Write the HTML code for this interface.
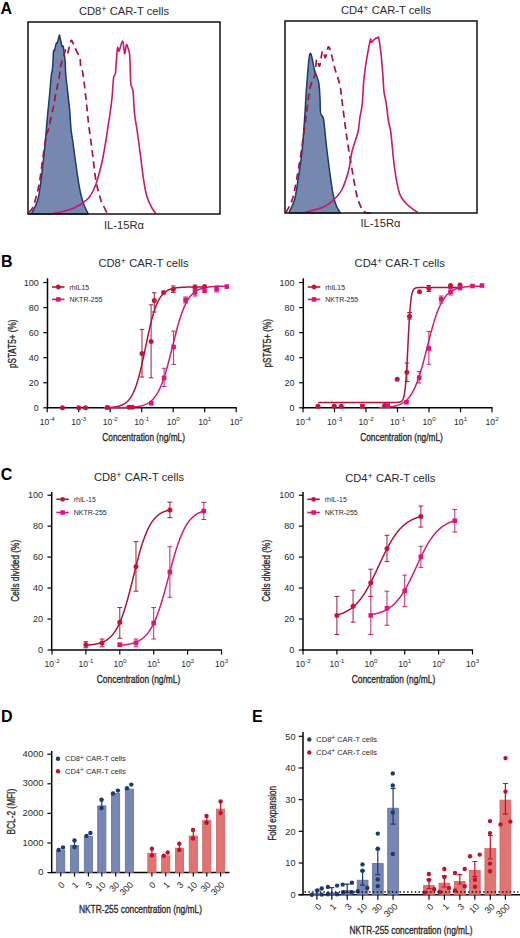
<!DOCTYPE html>
<html><head><meta charset="utf-8"><style>
html,body{margin:0;padding:0;background:#fff;width:520px;height:938px;overflow:hidden}
svg{display:block}
text{font-family:"Liberation Sans", sans-serif}
</style></head><body>
<svg width="520" height="938" viewBox="0 0 520 938">
<rect width="520" height="938" fill="#fff"/>
<text x="0.6" y="14.2" font-size="16" text-anchor="start" font-weight="bold" fill="#000" >A</text>
<text x="1" y="266.7" font-size="16" text-anchor="start" font-weight="bold" fill="#000" >B</text>
<text x="0.8" y="480" font-size="16" text-anchor="start" font-weight="bold" fill="#000" >C</text>
<text x="1" y="721.8" font-size="16" text-anchor="start" font-weight="bold" fill="#000" >D</text>
<text x="252" y="721.7" font-size="16" text-anchor="start" font-weight="bold" fill="#000" >E</text>
<path d="M29.5,213.5 C29.92,213.33 30.65,214.67 32,212.5 C33.35,210.33 36.27,204.58 37.6,200.5 C38.93,196.42 39.27,192.75 40,188 C40.73,183.25 41.25,178.33 42,172 C42.75,165.67 43.83,156.5 44.5,150 C45.17,143.5 45.43,139.35 46,133 C46.57,126.65 47.3,118.3 47.9,111.9 C48.5,105.5 49.03,100.75 49.6,94.6 C50.17,88.45 50.85,79.1 51.3,75 C51.75,70.9 52.02,72.37 52.3,70 C52.58,67.63 52.8,63.93 53,60.8 C53.2,57.67 53.23,52.93 53.5,51.2 C53.77,49.47 54.15,51.68 54.6,50.4 C55.05,49.12 55.75,44.75 56.2,43.5 C56.65,42.25 56.88,43.87 57.3,42.9 C57.72,41.93 58.33,39.02 58.7,37.7 C59.07,36.38 59.25,34.87 59.5,35 C59.75,35.13 59.92,37.28 60.2,38.5 C60.48,39.72 60.92,41.02 61.2,42.3 C61.48,43.58 61.55,45.5 61.9,46.2 C62.25,46.9 62.92,45.37 63.3,46.5 C63.68,47.63 63.88,50.37 64.2,53 C64.52,55.63 64.93,58.63 65.2,62.3 C65.47,65.97 65.33,69.62 65.8,75 C66.27,80.38 67.33,88.45 68,94.6 C68.67,100.75 69.3,106.13 69.8,111.9 C70.3,117.67 70.47,124.02 71,129.2 C71.53,134.38 72.33,138.2 73,143 C73.67,147.8 74.33,153.17 75,158 C75.67,162.83 76.33,167.5 77,172 C77.67,176.5 78.33,181.17 79,185 C79.67,188.83 80.17,191.67 81,195 C81.83,198.33 82.83,201.92 84,205 C85.17,208.08 87.33,212.08 88,213.5 L88,214 L29.5,214" stroke="#1c3a6a" stroke-width="1.5" fill="#7788b0" stroke-linejoin="round" />
<path d="M29,212.5 C29.67,211.58 31.72,209.92 33,207 C34.28,204.08 35.7,198.67 36.7,195 C37.7,191.33 38.28,188.83 39,185 C39.72,181.17 40.17,177.83 41,172 C41.83,166.17 43.08,156.17 44,150 C44.92,143.83 45.75,138.47 46.5,135 C47.25,131.53 47.7,132.28 48.5,129.2 C49.3,126.12 50.45,120.37 51.3,116.5 C52.15,112.63 52.82,110.03 53.6,106 C54.38,101.97 55.17,96.5 56,92.3 C56.83,88.1 57.83,85.02 58.6,80.8 C59.37,76.58 59.98,70.47 60.6,67 C61.22,63.53 61.63,62.33 62.3,60 C62.97,57.67 63.98,54.75 64.6,53 C65.22,51.25 65.52,49.42 66,49.5 C66.48,49.58 66.92,54.08 67.5,53.5 C68.08,52.92 68.88,48.18 69.5,46 C70.12,43.82 70.53,40.73 71.2,40.4 C71.87,40.07 72.67,42.33 73.5,44 C74.33,45.67 75.12,47.93 76.2,50.4 C77.28,52.87 79.25,56.05 80,58.8 C80.75,61.55 80.28,64.78 80.7,66.9 C81.12,69.02 81.92,68.82 82.5,71.5 C83.08,74.18 83.63,78.58 84.2,83 C84.77,87.42 85.37,93.17 85.9,98 C86.43,102.83 86.92,107.38 87.4,112 C87.88,116.62 87.97,118.95 88.8,125.7 C89.63,132.45 91.2,143.28 92.4,152.5 C93.6,161.72 94.57,173 96,181 C97.43,189 99.67,196.17 101,200.5 C102.33,204.83 103,204.92 104,207 C105,209.08 106.5,212 107,213" stroke="#a3143f" stroke-width="1.7" fill="none" stroke-linejoin="round" stroke-dasharray="7 4.5"/>
<path d="M53,213.4 C54.17,213.22 57.17,212.93 60,212.3 C62.83,211.67 67,210.65 70,209.6 C73,208.55 75.67,207.27 78,206 C80.33,204.73 82.08,203.5 84,202 C85.92,200.5 87.92,199 89.5,197 C91.08,195 92.25,192.67 93.5,190 C94.75,187.33 95.58,185.67 97,181 C98.42,176.33 100.5,168.83 102,162 C103.5,155.17 105.08,145.33 106,140 C106.92,134.67 107.05,133 107.5,130 C107.95,127 108.28,124.67 108.7,122 C109.12,119.33 109.45,118 110,114 C110.55,110 111.4,104.03 112,98 C112.6,91.97 113.03,81.97 113.6,77.8 C114.17,73.63 114.78,77.8 115.4,73 C116.02,68.2 116.82,53 117.3,49 C117.78,45 117.98,48.7 118.3,49 C118.62,49.3 118.47,52.1 119.2,50.8 C119.93,49.5 121.8,40.72 122.7,41.2 C123.6,41.68 123.97,53.12 124.6,53.7 C125.23,54.28 125.8,45.18 126.5,44.7 C127.2,44.22 128.25,48.82 128.8,50.8 C129.35,52.78 129.47,51.15 129.8,56.6 C130.13,62.05 130.27,77.77 130.8,83.5 C131.33,89.23 132.37,85.92 133,91 C133.63,96.08 133.85,107 134.6,114 C135.35,121 136.38,125 137.5,133 C138.62,141 140.25,154 141.3,162 C142.35,170 142.85,175.17 143.8,181 C144.75,186.83 145.63,192.5 147,197 C148.37,201.5 150.53,205.25 152,208 C153.47,210.75 155.17,212.58 155.8,213.5" stroke="#c9176b" stroke-width="1.6" fill="none" stroke-linejoin="round" />
<rect x="28" y="22" width="192" height="192" fill="none" stroke="#111" stroke-width="1.5"/>
<path d="M289,212.5 C289.93,210.33 293.1,204.92 294.6,199.5 C296.1,194.08 296.77,188 298,180 C299.23,172 300.83,162.67 302,151.5 C303.17,140.33 304.25,123.58 305,113 C305.75,102.42 305.67,97.88 306.5,88 C307.33,78.12 308.62,56.53 310,53.7 C311.38,50.87 313.35,66.2 314.8,71 C316.25,75.8 317.83,78 318.7,82.5 C319.57,87 319.68,92.92 320,98 C320.32,103.08 320.02,109.5 320.6,113 C321.18,116.5 322.6,114.17 323.5,119 C324.4,123.83 324.98,133.33 326,142 C327.02,150.67 328.43,162.33 329.6,171 C330.77,179.67 331.93,188.33 333,194 C334.07,199.67 334.83,201.92 336,205 C337.17,208.08 339.33,211.25 340,212.5 L340,213 L289,213" stroke="#1c3a6a" stroke-width="1.5" fill="#7788b0" stroke-linejoin="round" />
<path d="M286,212.5 C287.05,210.33 290.55,204.92 292.3,199.5 C294.05,194.08 295,188 296.5,180 C298,172 299.72,162 301.3,151.5 C302.88,141 304.55,127.58 306,117 C307.45,106.42 308.53,95 310,88 C311.47,81 313.68,79.75 314.8,75 C315.92,70.25 315.9,61 316.7,59.5 C317.5,58 318.63,67.42 319.6,66 C320.57,64.58 321.53,52.42 322.5,51 C323.47,49.58 324.43,58.17 325.4,57.5 C326.37,56.83 327.37,47.8 328.3,47 C329.23,46.2 329.88,49.03 331,52.7 C332.12,56.37 333.53,63.7 335,69 C336.47,74.3 338.68,79.67 339.8,84.5 C340.92,89.33 340.9,91.92 341.7,98 C342.5,104.08 343.63,113.67 344.6,121 C345.57,128.33 346.22,133.67 347.5,142 C348.78,150.33 350.8,162.33 352.3,171 C353.8,179.67 355.05,188 356.5,194 C357.95,200 359.45,203.92 361,207 C362.55,210.08 363.47,211.5 365.8,212.5 C368.13,213.5 373.47,212.92 375,213" stroke="#a3143f" stroke-width="1.7" fill="none" stroke-linejoin="round" stroke-dasharray="7 4.5"/>
<path d="M304,212.5 C307.25,211.58 318.5,209.17 323.5,207 C328.5,204.83 330.97,202.33 334,199.5 C337.03,196.67 339.28,194.75 341.7,190 C344.12,185.25 346.78,177.42 348.5,171 C350.22,164.58 350.42,158 352,151.5 C353.58,145 356.67,137.75 358,132 C359.33,126.25 359.28,121.72 360,117 C360.72,112.28 361.6,110.4 362.3,103.7 C363,97 362.92,87.22 364.2,76.8 C365.48,66.38 368.78,46.92 370,41.2 C371.22,35.48 370.77,42.82 371.5,42.5 C372.23,42.18 373.43,40.07 374.4,39.3 C375.37,38.53 376.57,38.07 377.3,37.9 C378.03,37.73 378.15,35.35 378.8,38.3 C379.45,41.25 380.5,49.18 381.2,55.6 C381.9,62.02 382.53,70.73 383,76.8 C383.47,82.87 383.5,87.8 384,92 C384.5,96.2 385.25,97.17 386,102 C386.75,106.83 387.7,115.97 388.5,121 C389.3,126.03 389.93,125.53 390.8,132.2 C391.67,138.87 392.75,152.98 393.7,161 C394.65,169.02 395.38,174.52 396.5,180.3 C397.62,186.08 398.48,191.53 400.4,195.7 C402.32,199.87 405.12,202.5 408,205.3 C410.88,208.1 416.08,211.3 417.7,212.5" stroke="#c9176b" stroke-width="1.6" fill="none" stroke-linejoin="round" />
<rect x="285" y="21" width="192" height="192" fill="none" stroke="#111" stroke-width="1.5"/>
<text x="124" y="15" font-size="11.2" text-anchor="middle" font-weight="normal" fill="#2a2a2a" >CD8<tspan font-size="9" dy="-3">+</tspan><tspan dy="3"> CAR-T cells</tspan></text>
<text x="386" y="14.3" font-size="11.2" text-anchor="middle" font-weight="normal" fill="#2a2a2a" >CD4<tspan font-size="9" dy="-3">+</tspan><tspan dy="3"> CAR-T cells</tspan></text>
<text x="124" y="228.6" font-size="11.2" text-anchor="middle" font-weight="normal" fill="#2a2a2a" >IL-15R&#945;</text>
<text x="380.5" y="226.9" font-size="11.2" text-anchor="middle" font-weight="normal" fill="#2a2a2a" >IL-15R&#945;</text>
<path d="M47.5,278.3V408.4" stroke="#050505" stroke-width="1.5" fill="none"/>
<path d="M43.3,407.8H47.5" stroke="#050505" stroke-width="1.2"/>
<text x="38.8" y="411" font-size="9" text-anchor="end" font-weight="normal" fill="#2a2a2a" >0</text>
<path d="M43.3,382.75H47.5" stroke="#050505" stroke-width="1.2"/>
<text x="38.8" y="385.95" font-size="9" text-anchor="end" font-weight="normal" fill="#2a2a2a" >20</text>
<path d="M43.3,357.7H47.5" stroke="#050505" stroke-width="1.2"/>
<text x="38.8" y="360.9" font-size="9" text-anchor="end" font-weight="normal" fill="#2a2a2a" >40</text>
<path d="M43.3,332.65H47.5" stroke="#050505" stroke-width="1.2"/>
<text x="38.8" y="335.85" font-size="9" text-anchor="end" font-weight="normal" fill="#2a2a2a" >60</text>
<path d="M43.3,307.6H47.5" stroke="#050505" stroke-width="1.2"/>
<text x="38.8" y="310.8" font-size="9" text-anchor="end" font-weight="normal" fill="#2a2a2a" >80</text>
<path d="M43.3,282.55H47.5" stroke="#050505" stroke-width="1.2"/>
<text x="38.8" y="285.75" font-size="9" text-anchor="end" font-weight="normal" fill="#2a2a2a" >100</text>
<path d="M46.5,407.8H236.8" stroke="#050505" stroke-width="1.5" fill="none"/>
<path d="M47.2,407.8V412.3" stroke="#050505" stroke-width="1.2"/>
<text x="47.3" y="424.8" font-size="8.6" text-anchor="middle" font-weight="normal" fill="#2a2a2a" >10<tspan font-size="6.2" dy="-3.9">-4</tspan></text>
<path d="M78.7,407.8V412.3" stroke="#050505" stroke-width="1.2"/>
<text x="78.8" y="424.8" font-size="8.6" text-anchor="middle" font-weight="normal" fill="#2a2a2a" >10<tspan font-size="6.2" dy="-3.9">-3</tspan></text>
<path d="M110.2,407.8V412.3" stroke="#050505" stroke-width="1.2"/>
<text x="110.3" y="424.8" font-size="8.6" text-anchor="middle" font-weight="normal" fill="#2a2a2a" >10<tspan font-size="6.2" dy="-3.9">-2</tspan></text>
<path d="M141.7,407.8V412.3" stroke="#050505" stroke-width="1.2"/>
<text x="141.8" y="424.8" font-size="8.6" text-anchor="middle" font-weight="normal" fill="#2a2a2a" >10<tspan font-size="6.2" dy="-3.9">-1</tspan></text>
<path d="M173.2,407.8V412.3" stroke="#050505" stroke-width="1.2"/>
<text x="173.3" y="424.8" font-size="8.6" text-anchor="middle" font-weight="normal" fill="#2a2a2a" >10<tspan font-size="6.2" dy="-3.9">0</tspan></text>
<path d="M204.7,407.8V412.3" stroke="#050505" stroke-width="1.2"/>
<text x="204.8" y="424.8" font-size="8.6" text-anchor="middle" font-weight="normal" fill="#2a2a2a" >10<tspan font-size="6.2" dy="-3.9">1</tspan></text>
<path d="M236.2,407.8V412.3" stroke="#050505" stroke-width="1.2"/>
<text x="236.3" y="424.8" font-size="8.6" text-anchor="middle" font-weight="normal" fill="#2a2a2a" >10<tspan font-size="6.2" dy="-3.9">2</tspan></text>
<text x="143.65" y="441.1" font-size="11.3" text-anchor="middle" fill="#2a2a2a" stroke="#2a2a2a" stroke-width="0.35" textLength="82.6" lengthAdjust="spacingAndGlyphs" >Concentration (ng/mL)</text>
<text x="15.7" y="343.8" font-size="11.3" text-anchor="middle" fill="#2a2a2a" stroke="#2a2a2a" stroke-width="0.35" textLength="48.5" lengthAdjust="spacingAndGlyphs" transform="rotate(-90 15.7 343.8)">pSTAT5+ (%)</text>
<path d="M52,287h12.5" stroke="#ac1539" stroke-width="1.6"/>
<circle cx="58.3" cy="287" r="2.4" fill="#c81238"/>
<path d="M52,299.4h12.5" stroke="#d61973" stroke-width="1.6"/>
<rect x="56.05" y="297.15" width="4.5" height="4.5" fill="#e0137a"/>
<text x="69.4" y="289.5" font-size="7" text-anchor="start" font-weight="normal" fill="#2a2a2a" >rhIL15</text>
<text x="69.4" y="301.9" font-size="7" text-anchor="start" font-weight="normal" fill="#2a2a2a" >NKTR-255</text>
<path d="M303.3,278.3V408.4" stroke="#050505" stroke-width="1.5" fill="none"/>
<path d="M299.1,407.8H303.3" stroke="#050505" stroke-width="1.2"/>
<text x="294.6" y="411" font-size="9" text-anchor="end" font-weight="normal" fill="#2a2a2a" >0</text>
<path d="M299.1,382.75H303.3" stroke="#050505" stroke-width="1.2"/>
<text x="294.6" y="385.95" font-size="9" text-anchor="end" font-weight="normal" fill="#2a2a2a" >20</text>
<path d="M299.1,357.7H303.3" stroke="#050505" stroke-width="1.2"/>
<text x="294.6" y="360.9" font-size="9" text-anchor="end" font-weight="normal" fill="#2a2a2a" >40</text>
<path d="M299.1,332.65H303.3" stroke="#050505" stroke-width="1.2"/>
<text x="294.6" y="335.85" font-size="9" text-anchor="end" font-weight="normal" fill="#2a2a2a" >60</text>
<path d="M299.1,307.6H303.3" stroke="#050505" stroke-width="1.2"/>
<text x="294.6" y="310.8" font-size="9" text-anchor="end" font-weight="normal" fill="#2a2a2a" >80</text>
<path d="M299.1,282.55H303.3" stroke="#050505" stroke-width="1.2"/>
<text x="294.6" y="285.75" font-size="9" text-anchor="end" font-weight="normal" fill="#2a2a2a" >100</text>
<path d="M302.3,407.8H492.6" stroke="#050505" stroke-width="1.5" fill="none"/>
<path d="M303,407.8V412.3" stroke="#050505" stroke-width="1.2"/>
<text x="303.1" y="424.8" font-size="8.6" text-anchor="middle" font-weight="normal" fill="#2a2a2a" >10<tspan font-size="6.2" dy="-3.9">-4</tspan></text>
<path d="M334.5,407.8V412.3" stroke="#050505" stroke-width="1.2"/>
<text x="334.6" y="424.8" font-size="8.6" text-anchor="middle" font-weight="normal" fill="#2a2a2a" >10<tspan font-size="6.2" dy="-3.9">-3</tspan></text>
<path d="M366,407.8V412.3" stroke="#050505" stroke-width="1.2"/>
<text x="366.1" y="424.8" font-size="8.6" text-anchor="middle" font-weight="normal" fill="#2a2a2a" >10<tspan font-size="6.2" dy="-3.9">-2</tspan></text>
<path d="M397.5,407.8V412.3" stroke="#050505" stroke-width="1.2"/>
<text x="397.6" y="424.8" font-size="8.6" text-anchor="middle" font-weight="normal" fill="#2a2a2a" >10<tspan font-size="6.2" dy="-3.9">-1</tspan></text>
<path d="M429,407.8V412.3" stroke="#050505" stroke-width="1.2"/>
<text x="429.1" y="424.8" font-size="8.6" text-anchor="middle" font-weight="normal" fill="#2a2a2a" >10<tspan font-size="6.2" dy="-3.9">0</tspan></text>
<path d="M460.5,407.8V412.3" stroke="#050505" stroke-width="1.2"/>
<text x="460.6" y="424.8" font-size="8.6" text-anchor="middle" font-weight="normal" fill="#2a2a2a" >10<tspan font-size="6.2" dy="-3.9">1</tspan></text>
<path d="M492,407.8V412.3" stroke="#050505" stroke-width="1.2"/>
<text x="492.1" y="424.8" font-size="8.6" text-anchor="middle" font-weight="normal" fill="#2a2a2a" >10<tspan font-size="6.2" dy="-3.9">2</tspan></text>
<text x="401.55" y="441.1" font-size="11.3" text-anchor="middle" fill="#2a2a2a" stroke="#2a2a2a" stroke-width="0.35" textLength="82.6" lengthAdjust="spacingAndGlyphs" >Concentration (ng/mL)</text>
<text x="270.9" y="343.2" font-size="11.3" text-anchor="middle" fill="#2a2a2a" stroke="#2a2a2a" stroke-width="0.35" textLength="48.5" lengthAdjust="spacingAndGlyphs" transform="rotate(-90 270.9 343.2)">pSTAT5+ (%)</text>
<path d="M307.8,287h12.5" stroke="#ac1539" stroke-width="1.6"/>
<circle cx="314.1" cy="287" r="2.4" fill="#c81238"/>
<path d="M307.8,299.4h12.5" stroke="#d61973" stroke-width="1.6"/>
<rect x="311.85" y="297.15" width="4.5" height="4.5" fill="#e0137a"/>
<text x="325.2" y="289.5" font-size="7" text-anchor="start" font-weight="normal" fill="#2a2a2a" >rhIL15</text>
<text x="325.2" y="301.9" font-size="7" text-anchor="start" font-weight="normal" fill="#2a2a2a" >NKTR-255</text>
<text x="143.5" y="267.3" font-size="11.2" text-anchor="middle" font-weight="normal" fill="#2a2a2a" >CD8<tspan font-size="9" dy="-3">+</tspan><tspan dy="3"> CAR-T cells</tspan></text>
<text x="399.7" y="267.3" font-size="11.2" text-anchor="middle" font-weight="normal" fill="#2a2a2a" >CD4<tspan font-size="9" dy="-3">+</tspan><tspan dy="3"> CAR-T cells</tspan></text>
<path d="M103.9,407.64 L104.4,407.63 L104.91,407.61 L105.41,407.6 L105.92,407.58 L106.42,407.56 L106.92,407.54 L107.43,407.52 L107.93,407.5 L108.44,407.47 L108.94,407.45 L109.44,407.42 L109.95,407.38 L110.45,407.35 L110.96,407.31 L111.46,407.27 L111.96,407.23 L112.47,407.18 L112.97,407.13 L113.48,407.07 L113.98,407.01 L114.48,406.95 L114.99,406.87 L115.49,406.8 L116,406.71 L116.5,406.62 L117,406.53 L117.51,406.42 L118.01,406.31 L118.52,406.18 L119.02,406.05 L119.52,405.91 L120.03,405.75 L120.53,405.58 L121.04,405.4 L121.54,405.21 L122.04,404.99 L122.55,404.77 L123.05,404.52 L123.56,404.25 L124.06,403.97 L124.56,403.66 L125.07,403.32 L125.57,402.96 L126.08,402.58 L126.58,402.16 L127.08,401.71 L127.59,401.23 L128.09,400.71 L128.6,400.16 L129.1,399.56 L129.6,398.92 L130.11,398.24 L130.61,397.51 L131.12,396.73 L131.62,395.89 L132.12,395 L132.63,394.05 L133.13,393.04 L133.64,391.97 L134.14,390.83 L134.64,389.63 L135.15,388.35 L135.65,387 L136.16,385.59 L136.66,384.09 L137.16,382.52 L137.67,380.88 L138.17,379.16 L138.68,377.37 L139.18,375.51 L139.68,373.57 L140.19,371.57 L140.69,369.5 L141.2,367.36 L141.7,365.18 L142.2,362.93 L142.71,360.65 L143.21,358.32 L143.72,355.95 L144.22,353.56 L144.72,351.15 L145.23,348.73 L145.73,346.31 L146.24,343.88 L146.74,341.47 L147.24,339.08 L147.75,336.71 L148.25,334.38 L148.76,332.08 L149.26,329.84 L149.76,327.64 L150.27,325.5 L150.77,323.42 L151.28,321.41 L151.78,319.47 L152.28,317.59 L152.79,315.79 L153.29,314.06 L153.8,312.41 L154.3,310.83 L154.8,309.33 L155.31,307.9 L155.81,306.55 L156.32,305.26 L156.82,304.05 L157.32,302.9 L157.83,301.82 L158.33,300.8 L158.84,299.85 L159.34,298.95 L159.84,298.11 L160.35,297.32 L160.85,296.58 L161.36,295.89 L161.86,295.25 L162.36,294.65 L162.87,294.09 L163.37,293.57 L163.88,293.08 L164.38,292.63 L164.88,292.21 L165.39,291.82 L165.89,291.46 L166.4,291.12 L166.9,290.81 L167.4,290.52 L167.91,290.25 L168.41,290 L168.92,289.77 L169.42,289.55 L169.92,289.35 L170.43,289.17 L170.93,289 L171.44,288.84 L171.94,288.7 L172.44,288.56 L172.95,288.44 L173.45,288.33 L173.96,288.22 L174.46,288.12 L174.96,288.03 L175.47,287.95 L175.97,287.87 L176.48,287.8 L176.98,287.73 L177.48,287.67 L177.99,287.61 L178.49,287.56 L179,287.51 L179.5,287.47 L180,287.43 L180.51,287.39 L181.01,287.35 L181.52,287.32 L182.02,287.29 L182.52,287.26 L183.03,287.24 L183.53,287.22 L184.04,287.19 L184.54,287.17 L185.04,287.16 L185.55,287.14 L186.05,287.12 L186.56,287.11 L187.06,287.09 L187.56,287.08 L188.07,287.07 L188.57,287.06 L189.08,287.05 L189.58,287.04 L190.08,287.03 L190.59,287.03 L191.09,287.02 L191.6,287.01 L192.1,287.01 L192.6,287 L193.11,287 L193.61,286.99 L194.12,286.99 L194.62,286.98 L195.12,286.98 L195.63,286.97 L196.13,286.97 L196.64,286.97 L197.14,286.97 L197.64,286.96 L198.15,286.96 L198.65,286.96 L199.16,286.96 L199.66,286.96 L200.16,286.95 L200.67,286.95 L201.17,286.95 L201.68,286.95 L202.18,286.95 L202.68,286.95 L203.19,286.95 L203.69,286.95 L204.2,286.94 L204.7,286.94" stroke="#ac1539" stroke-width="1.5" fill="none" stroke-linejoin="round" />
<path d="M103.9,407.79 L104.51,407.79 L105.13,407.78 L105.74,407.78 L106.36,407.78 L106.97,407.78 L107.59,407.78 L108.2,407.78 L108.81,407.77 L109.43,407.77 L110.04,407.77 L110.66,407.77 L111.27,407.76 L111.89,407.76 L112.5,407.76 L113.11,407.75 L113.73,407.75 L114.34,407.75 L114.96,407.74 L115.57,407.74 L116.19,407.73 L116.8,407.73 L117.41,407.72 L118.03,407.71 L118.64,407.7 L119.26,407.7 L119.87,407.69 L120.48,407.68 L121.1,407.67 L121.71,407.66 L122.33,407.64 L122.94,407.63 L123.56,407.62 L124.17,407.6 L124.78,407.58 L125.4,407.57 L126.01,407.55 L126.63,407.52 L127.24,407.5 L127.86,407.48 L128.47,407.45 L129.08,407.42 L129.7,407.39 L130.31,407.35 L130.93,407.31 L131.54,407.27 L132.16,407.23 L132.77,407.18 L133.38,407.12 L134,407.07 L134.61,407 L135.23,406.94 L135.84,406.86 L136.46,406.79 L137.07,406.7 L137.68,406.61 L138.3,406.51 L138.91,406.4 L139.53,406.28 L140.14,406.15 L140.75,406.01 L141.37,405.86 L141.98,405.7 L142.6,405.53 L143.21,405.34 L143.83,405.13 L144.44,404.91 L145.05,404.67 L145.67,404.41 L146.28,404.13 L146.9,403.83 L147.51,403.51 L148.13,403.15 L148.74,402.77 L149.35,402.37 L149.97,401.92 L150.58,401.45 L151.2,400.94 L151.81,400.39 L152.43,399.8 L153.04,399.17 L153.65,398.49 L154.27,397.76 L154.88,396.98 L155.5,396.15 L156.11,395.26 L156.73,394.31 L157.34,393.3 L157.95,392.22 L158.57,391.08 L159.18,389.87 L159.8,388.58 L160.41,387.22 L161.03,385.79 L161.64,384.27 L162.25,382.68 L162.87,381.02 L163.48,379.27 L164.1,377.45 L164.71,375.55 L165.32,373.57 L165.94,371.52 L166.55,369.41 L167.17,367.23 L167.78,364.99 L168.4,362.7 L169.01,360.35 L169.62,357.97 L170.24,355.54 L170.85,353.09 L171.47,350.62 L172.08,348.14 L172.7,345.65 L173.31,343.17 L173.92,340.7 L174.54,338.25 L175.15,335.83 L175.77,333.44 L176.38,331.1 L177,328.81 L177.61,326.57 L178.22,324.39 L178.84,322.28 L179.45,320.23 L180.07,318.26 L180.68,316.36 L181.3,314.54 L181.91,312.8 L182.52,311.13 L183.14,309.54 L183.75,308.03 L184.37,306.6 L184.98,305.24 L185.6,303.96 L186.21,302.75 L186.82,301.6 L187.44,300.53 L188.05,299.52 L188.67,298.57 L189.28,297.68 L189.89,296.85 L190.51,296.07 L191.12,295.35 L191.74,294.67 L192.35,294.04 L192.97,293.45 L193.58,292.9 L194.19,292.39 L194.81,291.92 L195.42,291.48 L196.04,291.07 L196.65,290.69 L197.27,290.34 L197.88,290.02 L198.49,289.72 L199.11,289.44 L199.72,289.18 L200.34,288.94 L200.95,288.72 L201.57,288.51 L202.18,288.32 L202.79,288.15 L203.41,287.99 L204.02,287.84 L204.64,287.7 L205.25,287.57 L205.87,287.46 L206.48,287.35 L207.09,287.25 L207.71,287.15 L208.32,287.07 L208.94,286.99 L209.55,286.92 L210.17,286.85 L210.78,286.79 L211.39,286.73 L212.01,286.68 L212.62,286.63 L213.24,286.59 L213.85,286.54 L214.47,286.51 L215.08,286.47 L215.69,286.44 L216.31,286.41 L216.92,286.38 L217.54,286.36 L218.15,286.33 L218.76,286.31 L219.38,286.29 L219.99,286.27 L220.61,286.26 L221.22,286.24 L221.84,286.23 L222.45,286.21 L223.06,286.2 L223.68,286.19 L224.29,286.18 L224.91,286.17 L225.52,286.16 L226.14,286.15 L226.75,286.14" stroke="#d61973" stroke-width="1.5" fill="none" stroke-linejoin="round" />
<circle cx="62.4" cy="407.7" r="2.5" fill="#c81238"/>
<circle cx="78.8" cy="407.7" r="2.5" fill="#c81238"/>
<circle cx="85.5" cy="407.7" r="2.5" fill="#c81238"/>
<circle cx="129" cy="407.3" r="2.5" fill="#c81238"/>
<circle cx="132.4" cy="407.3" r="2.5" fill="#c81238"/>
<path d="M142,329.4V377M139.7,329.4h4.6M139.7,377h4.6" stroke="#a01a40" stroke-width="1" fill="none"/>
<circle cx="142" cy="353.6" r="2.5" fill="#c81238"/>
<path d="M151.1,304.8V377.9M148.8,304.8h4.6M148.8,377.9h4.6" stroke="#a01a40" stroke-width="1" fill="none"/>
<circle cx="151.1" cy="341.5" r="2.5" fill="#c81238"/>
<path d="M154.3,292.8V312M152,292.8h4.6M152,312h4.6" stroke="#a01a40" stroke-width="1" fill="none"/>
<circle cx="154.3" cy="300.4" r="2.5" fill="#c81238"/>
<circle cx="163.6" cy="292.4" r="2.5" fill="#c81238"/>
<path d="M173.3,286V292.4M171,286h4.6M171,292.4h4.6" stroke="#a01a40" stroke-width="1" fill="none"/>
<circle cx="173.3" cy="289.2" r="2.5" fill="#c81238"/>
<path d="M195,285V290M192.7,285h4.6M192.7,290h4.6" stroke="#a01a40" stroke-width="1" fill="none"/>
<circle cx="195" cy="287.5" r="2.5" fill="#c81238"/>
<circle cx="204.5" cy="286.4" r="2.5" fill="#c81238"/>
<rect x="105.1" y="405.2" width="4.6" height="4.6" fill="#c81238"/>
<rect x="149" y="401" width="4.6" height="4.6" fill="#e0137a"/>
<path d="M164.1,368.3V386.5M161.8,368.3h4.6M161.8,386.5h4.6" stroke="#bd2870" stroke-width="1" fill="none"/>
<rect x="161.8" y="375.6" width="4.6" height="4.6" fill="#e0137a"/>
<path d="M173.6,331.1V364.4M171.3,331.1h4.6M171.3,364.4h4.6" stroke="#bd2870" stroke-width="1" fill="none"/>
<rect x="171.3" y="344.7" width="4.6" height="4.6" fill="#e0137a"/>
<path d="M185.6,297V303M183.3,297h4.6M183.3,303h4.6" stroke="#bd2870" stroke-width="1" fill="none"/>
<rect x="183.3" y="297.7" width="4.6" height="4.6" fill="#e0137a"/>
<path d="M195.1,289V296M192.8,289h4.6M192.8,296h4.6" stroke="#bd2870" stroke-width="1" fill="none"/>
<rect x="192.8" y="290.1" width="4.6" height="4.6" fill="#e0137a"/>
<rect x="202.2" y="288.4" width="4.6" height="4.6" fill="#e0137a"/>
<path d="M216.6,286V292M214.3,286h4.6M214.3,292h4.6" stroke="#bd2870" stroke-width="1" fill="none"/>
<rect x="214.3" y="286.7" width="4.6" height="4.6" fill="#e0137a"/>
<rect x="224.5" y="284.3" width="4.6" height="4.6" fill="#e0137a"/>
<path d="M318.12,402.41 L318.83,402.41 L319.54,402.41 L320.26,402.41 L320.97,402.41 L321.68,402.41 L322.39,402.41 L323.1,402.41 L323.82,402.41 L324.53,402.41 L325.24,402.41 L325.95,402.41 L326.66,402.41 L327.37,402.41 L328.09,402.41 L328.8,402.41 L329.51,402.41 L330.22,402.41 L330.93,402.41 L331.65,402.41 L332.36,402.41 L333.07,402.41 L333.78,402.41 L334.49,402.41 L335.21,402.41 L335.92,402.41 L336.63,402.41 L337.34,402.41 L338.05,402.41 L338.77,402.41 L339.48,402.41 L340.19,402.41 L340.9,402.41 L341.61,402.41 L342.32,402.41 L343.04,402.41 L343.75,402.41 L344.46,402.41 L345.17,402.41 L345.88,402.41 L346.6,402.41 L347.31,402.41 L348.02,402.41 L348.73,402.41 L349.44,402.41 L350.16,402.41 L350.87,402.41 L351.58,402.41 L352.29,402.41 L353,402.41 L353.71,402.41 L354.43,402.41 L355.14,402.41 L355.85,402.41 L356.56,402.41 L357.27,402.41 L357.99,402.41 L358.7,402.41 L359.41,402.41 L360.12,402.41 L360.83,402.41 L361.55,402.41 L362.26,402.41 L362.97,402.41 L363.68,402.41 L364.39,402.41 L365.11,402.41 L365.82,402.41 L366.53,402.41 L367.24,402.41 L367.95,402.41 L368.66,402.41 L369.38,402.41 L370.09,402.41 L370.8,402.41 L371.51,402.41 L372.22,402.41 L372.94,402.41 L373.65,402.41 L374.36,402.41 L375.07,402.41 L375.78,402.41 L376.5,402.41 L377.21,402.41 L377.92,402.41 L378.63,402.41 L379.34,402.41 L380.06,402.41 L380.77,402.41 L381.48,402.41 L382.19,402.41 L382.9,402.41 L383.61,402.41 L384.33,402.41 L385.04,402.41 L385.75,402.41 L386.46,402.41 L387.17,402.41 L387.89,402.41 L388.6,402.41 L389.31,402.41 L390.02,402.41 L390.73,402.41 L391.45,402.41 L392.16,402.41 L392.87,402.41 L393.58,402.41 L394.29,402.41 L395.01,402.4 L395.72,402.4 L396.43,402.38 L397.14,402.36 L397.85,402.33 L398.56,402.28 L399.28,402.19 L399.99,402.03 L400.7,401.78 L401.41,401.37 L402.12,400.68 L402.84,399.56 L403.55,397.74 L404.26,394.83 L404.97,390.31 L405.68,383.59 L406.4,374.14 L407.11,361.96 L407.82,347.84 L408.53,333.36 L409.24,320.27 L409.96,309.73 L410.67,301.98 L411.38,296.68 L412.09,293.22 L412.8,291.02 L413.51,289.67 L414.23,288.83 L414.94,288.33 L415.65,288.02 L416.36,287.84 L417.07,287.73 L417.79,287.66 L418.5,287.62 L419.21,287.6 L419.92,287.58 L420.63,287.57 L421.35,287.57 L422.06,287.56 L422.77,287.56 L423.48,287.56 L424.19,287.56 L424.9,287.56 L425.62,287.56 L426.33,287.56 L427.04,287.56 L427.75,287.56 L428.46,287.56 L429.18,287.56 L429.89,287.56 L430.6,287.56 L431.31,287.56 L432.02,287.56 L432.74,287.56 L433.45,287.56 L434.16,287.56 L434.87,287.56 L435.58,287.56 L436.3,287.56 L437.01,287.56 L437.72,287.56 L438.43,287.56 L439.14,287.56 L439.85,287.56 L440.57,287.56 L441.28,287.56 L441.99,287.56 L442.7,287.56 L443.41,287.56 L444.13,287.56 L444.84,287.56 L445.55,287.56 L446.26,287.56 L446.97,287.56 L447.69,287.56 L448.4,287.56 L449.11,287.56 L449.82,287.56 L450.53,287.56 L451.25,287.56 L451.96,287.56 L452.67,287.56 L453.38,287.56 L454.09,287.56 L454.8,287.56 L455.52,287.56 L456.23,287.56 L456.94,287.56 L457.65,287.56 L458.36,287.56 L459.08,287.56 L459.79,287.56 L460.5,287.56" stroke="#ac1539" stroke-width="1.5" fill="none" stroke-linejoin="round" />
<path d="M378.6,407.58 L379.12,407.57 L379.64,407.55 L380.16,407.54 L380.68,407.52 L381.2,407.5 L381.72,407.48 L382.24,407.45 L382.76,407.43 L383.28,407.4 L383.8,407.38 L384.32,407.35 L384.84,407.31 L385.36,407.28 L385.88,407.24 L386.4,407.21 L386.92,407.16 L387.44,407.12 L387.96,407.07 L388.48,407.02 L389,406.97 L389.51,406.91 L390.03,406.85 L390.55,406.78 L391.07,406.71 L391.59,406.64 L392.11,406.56 L392.63,406.47 L393.15,406.38 L393.67,406.28 L394.19,406.18 L394.71,406.06 L395.23,405.94 L395.75,405.82 L396.27,405.68 L396.79,405.53 L397.31,405.38 L397.83,405.21 L398.35,405.04 L398.87,404.85 L399.39,404.65 L399.91,404.43 L400.43,404.2 L400.95,403.96 L401.47,403.7 L401.99,403.42 L402.51,403.13 L403.03,402.82 L403.55,402.48 L404.07,402.13 L404.59,401.75 L405.11,401.35 L405.63,400.92 L406.15,400.47 L406.67,399.99 L407.19,399.48 L407.71,398.94 L408.23,398.37 L408.75,397.77 L409.27,397.13 L409.78,396.45 L410.3,395.73 L410.82,394.98 L411.34,394.18 L411.86,393.34 L412.38,392.46 L412.9,391.53 L413.42,390.55 L413.94,389.52 L414.46,388.45 L414.98,387.32 L415.5,386.15 L416.02,384.91 L416.54,383.63 L417.06,382.29 L417.58,380.9 L418.1,379.46 L418.62,377.96 L419.14,376.41 L419.66,374.81 L420.18,373.16 L420.7,371.46 L421.22,369.72 L421.74,367.92 L422.26,366.09 L422.78,364.22 L423.3,362.31 L423.82,360.36 L424.34,358.39 L424.86,356.39 L425.38,354.38 L425.9,352.34 L426.42,350.29 L426.94,348.24 L427.46,346.18 L427.98,344.12 L428.5,342.07 L429.02,340.03 L429.54,338.01 L430.06,336.01 L430.57,334.03 L431.09,332.08 L431.61,330.16 L432.13,328.27 L432.65,326.43 L433.17,324.63 L433.69,322.87 L434.21,321.15 L434.73,319.49 L435.25,317.87 L435.77,316.31 L436.29,314.8 L436.81,313.34 L437.33,311.94 L437.85,310.58 L438.37,309.29 L438.89,308.04 L439.41,306.85 L439.93,305.71 L440.45,304.62 L440.97,303.58 L441.49,302.59 L442.01,301.65 L442.53,300.75 L443.05,299.9 L443.57,299.09 L444.09,298.33 L444.61,297.6 L445.13,296.91 L445.65,296.26 L446.17,295.65 L446.69,295.07 L447.21,294.52 L447.73,294 L448.25,293.51 L448.77,293.05 L449.29,292.62 L449.81,292.21 L450.33,291.83 L450.85,291.47 L451.37,291.13 L451.88,290.81 L452.4,290.51 L452.92,290.23 L453.44,289.97 L453.96,289.72 L454.48,289.49 L455,289.27 L455.52,289.06 L456.04,288.87 L456.56,288.69 L457.08,288.52 L457.6,288.36 L458.12,288.22 L458.64,288.08 L459.16,287.95 L459.68,287.82 L460.2,287.71 L460.72,287.6 L461.24,287.5 L461.76,287.41 L462.28,287.32 L462.8,287.24 L463.32,287.16 L463.84,287.09 L464.36,287.03 L464.88,286.96 L465.4,286.9 L465.92,286.85 L466.44,286.8 L466.96,286.75 L467.48,286.7 L468,286.66 L468.52,286.62 L469.04,286.59 L469.56,286.55 L470.08,286.52 L470.6,286.49 L471.12,286.46 L471.64,286.43 L472.15,286.41 L472.67,286.39 L473.19,286.37 L473.71,286.35 L474.23,286.33 L474.75,286.31 L475.27,286.29 L475.79,286.28 L476.31,286.26 L476.83,286.25 L477.35,286.24 L477.87,286.22 L478.39,286.21 L478.91,286.2 L479.43,286.19 L479.95,286.19 L480.47,286.18 L480.99,286.17 L481.51,286.16 L482.03,286.15 L482.55,286.15" stroke="#d61973" stroke-width="1.5" fill="none" stroke-linejoin="round" />
<circle cx="318" cy="406.3" r="2.5" fill="#c81238"/>
<circle cx="334.2" cy="406.3" r="2.5" fill="#c81238"/>
<circle cx="341.2" cy="406.3" r="2.5" fill="#c81238"/>
<circle cx="384.6" cy="405.5" r="2.5" fill="#c81238"/>
<circle cx="397.2" cy="379.2" r="2.5" fill="#c81238"/>
<path d="M406.9,363V381.5M404.6,363h4.6M404.6,381.5h4.6" stroke="#a01a40" stroke-width="1" fill="none"/>
<circle cx="406.9" cy="372.3" r="2.5" fill="#c81238"/>
<path d="M409.5,312.5V319M407.2,312.5h4.6M407.2,319h4.6" stroke="#a01a40" stroke-width="1" fill="none"/>
<circle cx="409.5" cy="316.2" r="2.5" fill="#c81238"/>
<circle cx="419.5" cy="291.8" r="2.5" fill="#c81238"/>
<path d="M428.8,285.5V291.5M426.5,285.5h4.6M426.5,291.5h4.6" stroke="#a01a40" stroke-width="1" fill="none"/>
<circle cx="428.8" cy="288.5" r="2.5" fill="#c81238"/>
<circle cx="450.5" cy="285.5" r="2.5" fill="#c81238"/>
<circle cx="460" cy="285" r="2.5" fill="#c81238"/>
<rect x="360.1" y="404" width="4.6" height="4.6" fill="#c81238"/>
<rect x="385.4" y="403.2" width="4.6" height="4.6" fill="#e0137a"/>
<rect x="404.2" y="400" width="4.6" height="4.6" fill="#e0137a"/>
<path d="M419.2,371.5V383M416.9,371.5h4.6M416.9,383h4.6" stroke="#bd2870" stroke-width="1" fill="none"/>
<rect x="416.9" y="375.4" width="4.6" height="4.6" fill="#e0137a"/>
<path d="M428.9,331.5V364.3M426.6,331.5h4.6M426.6,364.3h4.6" stroke="#bd2870" stroke-width="1" fill="none"/>
<rect x="426.6" y="346.2" width="4.6" height="4.6" fill="#e0137a"/>
<path d="M441.2,296V303M438.9,296h4.6M438.9,303h4.6" stroke="#bd2870" stroke-width="1" fill="none"/>
<rect x="438.9" y="297" width="4.6" height="4.6" fill="#e0137a"/>
<path d="M450.5,288.5V295M448.2,288.5h4.6M448.2,295h4.6" stroke="#bd2870" stroke-width="1" fill="none"/>
<rect x="448.2" y="289.5" width="4.6" height="4.6" fill="#e0137a"/>
<rect x="457.7" y="285.7" width="4.6" height="4.6" fill="#e0137a"/>
<rect x="470.2" y="283.7" width="4.6" height="4.6" fill="#e0137a"/>
<rect x="479.7" y="283.2" width="4.6" height="4.6" fill="#e0137a"/>
<path d="M51.7,492V650.6" stroke="#050505" stroke-width="1.5" fill="none"/>
<path d="M47.5,650H51.7" stroke="#050505" stroke-width="1.2"/>
<text x="43" y="653.2" font-size="9" text-anchor="end" font-weight="normal" fill="#2a2a2a" >0</text>
<path d="M47.5,619.04H51.7" stroke="#050505" stroke-width="1.2"/>
<text x="43" y="622.24" font-size="9" text-anchor="end" font-weight="normal" fill="#2a2a2a" >20</text>
<path d="M47.5,588.08H51.7" stroke="#050505" stroke-width="1.2"/>
<text x="43" y="591.28" font-size="9" text-anchor="end" font-weight="normal" fill="#2a2a2a" >40</text>
<path d="M47.5,557.12H51.7" stroke="#050505" stroke-width="1.2"/>
<text x="43" y="560.32" font-size="9" text-anchor="end" font-weight="normal" fill="#2a2a2a" >60</text>
<path d="M47.5,526.16H51.7" stroke="#050505" stroke-width="1.2"/>
<text x="43" y="529.36" font-size="9" text-anchor="end" font-weight="normal" fill="#2a2a2a" >80</text>
<path d="M47.5,495.2H51.7" stroke="#050505" stroke-width="1.2"/>
<text x="43" y="498.4" font-size="9" text-anchor="end" font-weight="normal" fill="#2a2a2a" >100</text>
<path d="M51.3,650H222.1" stroke="#050505" stroke-width="1.5" fill="none"/>
<path d="M52,650V654.5" stroke="#050505" stroke-width="1.2"/>
<text x="52.1" y="667" font-size="8.6" text-anchor="middle" font-weight="normal" fill="#2a2a2a" >10<tspan font-size="6.2" dy="-3.9">-2</tspan></text>
<path d="M85.9,650V654.5" stroke="#050505" stroke-width="1.2"/>
<text x="86" y="667" font-size="8.6" text-anchor="middle" font-weight="normal" fill="#2a2a2a" >10<tspan font-size="6.2" dy="-3.9">-1</tspan></text>
<path d="M119.8,650V654.5" stroke="#050505" stroke-width="1.2"/>
<text x="119.9" y="667" font-size="8.6" text-anchor="middle" font-weight="normal" fill="#2a2a2a" >10<tspan font-size="6.2" dy="-3.9">0</tspan></text>
<path d="M153.7,650V654.5" stroke="#050505" stroke-width="1.2"/>
<text x="153.8" y="667" font-size="8.6" text-anchor="middle" font-weight="normal" fill="#2a2a2a" >10<tspan font-size="6.2" dy="-3.9">1</tspan></text>
<path d="M187.6,650V654.5" stroke="#050505" stroke-width="1.2"/>
<text x="187.7" y="667" font-size="8.6" text-anchor="middle" font-weight="normal" fill="#2a2a2a" >10<tspan font-size="6.2" dy="-3.9">2</tspan></text>
<path d="M221.5,650V654.5" stroke="#050505" stroke-width="1.2"/>
<text x="221.6" y="667" font-size="8.6" text-anchor="middle" font-weight="normal" fill="#2a2a2a" >10<tspan font-size="6.2" dy="-3.9">3</tspan></text>
<text x="138.55" y="683.2" font-size="11.3" text-anchor="middle" fill="#2a2a2a" stroke="#2a2a2a" stroke-width="0.35" textLength="83.5" lengthAdjust="spacingAndGlyphs" >Concentration (ng/mL)</text>
<text x="19.5" y="570.8" font-size="11.3" text-anchor="middle" fill="#2a2a2a" stroke="#2a2a2a" stroke-width="0.35" textLength="62" lengthAdjust="spacingAndGlyphs" transform="rotate(-90 19.5 570.8)">Cells divided (%)</text>
<path d="M56.3,499.3h12.5" stroke="#ac1539" stroke-width="1.6"/>
<circle cx="62.6" cy="499.3" r="2.4" fill="#c81238"/>
<path d="M56.3,512.5h12.5" stroke="#d61973" stroke-width="1.6"/>
<rect x="60.35" y="510.25" width="4.5" height="4.5" fill="#e0137a"/>
<text x="73.7" y="501.8" font-size="7" text-anchor="start" font-weight="normal" fill="#2a2a2a" >rhIL-15</text>
<text x="73.7" y="515" font-size="7" text-anchor="start" font-weight="normal" fill="#2a2a2a" >NKTR-255</text>
<path d="M303,492V650.6" stroke="#050505" stroke-width="1.5" fill="none"/>
<path d="M298.8,650H303" stroke="#050505" stroke-width="1.2"/>
<text x="294.3" y="653.2" font-size="9" text-anchor="end" font-weight="normal" fill="#2a2a2a" >0</text>
<path d="M298.8,619.04H303" stroke="#050505" stroke-width="1.2"/>
<text x="294.3" y="622.24" font-size="9" text-anchor="end" font-weight="normal" fill="#2a2a2a" >20</text>
<path d="M298.8,588.08H303" stroke="#050505" stroke-width="1.2"/>
<text x="294.3" y="591.28" font-size="9" text-anchor="end" font-weight="normal" fill="#2a2a2a" >40</text>
<path d="M298.8,557.12H303" stroke="#050505" stroke-width="1.2"/>
<text x="294.3" y="560.32" font-size="9" text-anchor="end" font-weight="normal" fill="#2a2a2a" >60</text>
<path d="M298.8,526.16H303" stroke="#050505" stroke-width="1.2"/>
<text x="294.3" y="529.36" font-size="9" text-anchor="end" font-weight="normal" fill="#2a2a2a" >80</text>
<path d="M298.8,495.2H303" stroke="#050505" stroke-width="1.2"/>
<text x="294.3" y="498.4" font-size="9" text-anchor="end" font-weight="normal" fill="#2a2a2a" >100</text>
<path d="M302.3,650H473.1" stroke="#050505" stroke-width="1.5" fill="none"/>
<path d="M303,650V654.5" stroke="#050505" stroke-width="1.2"/>
<text x="303.1" y="667" font-size="8.6" text-anchor="middle" font-weight="normal" fill="#2a2a2a" >10<tspan font-size="6.2" dy="-3.9">-2</tspan></text>
<path d="M336.9,650V654.5" stroke="#050505" stroke-width="1.2"/>
<text x="337" y="667" font-size="8.6" text-anchor="middle" font-weight="normal" fill="#2a2a2a" >10<tspan font-size="6.2" dy="-3.9">-1</tspan></text>
<path d="M370.8,650V654.5" stroke="#050505" stroke-width="1.2"/>
<text x="370.9" y="667" font-size="8.6" text-anchor="middle" font-weight="normal" fill="#2a2a2a" >10<tspan font-size="6.2" dy="-3.9">0</tspan></text>
<path d="M404.7,650V654.5" stroke="#050505" stroke-width="1.2"/>
<text x="404.8" y="667" font-size="8.6" text-anchor="middle" font-weight="normal" fill="#2a2a2a" >10<tspan font-size="6.2" dy="-3.9">1</tspan></text>
<path d="M438.6,650V654.5" stroke="#050505" stroke-width="1.2"/>
<text x="438.7" y="667" font-size="8.6" text-anchor="middle" font-weight="normal" fill="#2a2a2a" >10<tspan font-size="6.2" dy="-3.9">2</tspan></text>
<path d="M472.5,650V654.5" stroke="#050505" stroke-width="1.2"/>
<text x="472.6" y="667" font-size="8.6" text-anchor="middle" font-weight="normal" fill="#2a2a2a" >10<tspan font-size="6.2" dy="-3.9">3</tspan></text>
<text x="393.45" y="683.2" font-size="11.3" text-anchor="middle" fill="#2a2a2a" stroke="#2a2a2a" stroke-width="0.35" textLength="83.5" lengthAdjust="spacingAndGlyphs" >Concentration (ng/mL)</text>
<text x="270.5" y="570.8" font-size="11.3" text-anchor="middle" fill="#2a2a2a" stroke="#2a2a2a" stroke-width="0.35" textLength="62" lengthAdjust="spacingAndGlyphs" transform="rotate(-90 270.5 570.8)">Cells divided (%)</text>
<path d="M307.3,499.3h12.5" stroke="#ac1539" stroke-width="1.6"/>
<circle cx="313.6" cy="499.3" r="2.4" fill="#c81238"/>
<path d="M307.3,512.5h12.5" stroke="#d61973" stroke-width="1.6"/>
<rect x="311.35" y="510.25" width="4.5" height="4.5" fill="#e0137a"/>
<text x="324.7" y="501.8" font-size="7" text-anchor="start" font-weight="normal" fill="#2a2a2a" >rhIL-15</text>
<text x="324.7" y="515" font-size="7" text-anchor="start" font-weight="normal" fill="#2a2a2a" >NKTR-255</text>
<text x="139" y="481.2" font-size="11.2" text-anchor="middle" font-weight="normal" fill="#2a2a2a" >CD8<tspan font-size="9" dy="-3">+</tspan><tspan dy="3"> CAR-T cells</tspan></text>
<text x="390.3" y="481.6" font-size="11.2" text-anchor="middle" font-weight="normal" fill="#2a2a2a" >CD4<tspan font-size="9" dy="-3">+</tspan><tspan dy="3"> CAR-T cells</tspan></text>
<path d="M85.9,645.18 L86.32,645.15 L86.74,645.12 L87.16,645.1 L87.58,645.06 L88,645.03 L88.42,645 L88.84,644.96 L89.26,644.93 L89.68,644.89 L90.1,644.85 L90.52,644.81 L90.94,644.76 L91.36,644.71 L91.78,644.67 L92.2,644.61 L92.62,644.56 L93.04,644.5 L93.46,644.44 L93.88,644.38 L94.3,644.31 L94.72,644.24 L95.14,644.17 L95.56,644.1 L95.98,644.02 L96.4,643.93 L96.82,643.84 L97.24,643.75 L97.66,643.65 L98.08,643.55 L98.5,643.45 L98.92,643.33 L99.34,643.22 L99.76,643.09 L100.18,642.96 L100.6,642.83 L101.02,642.69 L101.44,642.54 L101.86,642.38 L102.28,642.22 L102.69,642.05 L103.11,641.87 L103.53,641.68 L103.95,641.48 L104.37,641.28 L104.79,641.06 L105.21,640.83 L105.63,640.6 L106.05,640.35 L106.47,640.09 L106.89,639.82 L107.31,639.54 L107.73,639.24 L108.15,638.93 L108.57,638.6 L108.99,638.26 L109.41,637.91 L109.83,637.54 L110.25,637.15 L110.67,636.75 L111.09,636.33 L111.51,635.89 L111.93,635.43 L112.35,634.95 L112.77,634.45 L113.19,633.93 L113.61,633.39 L114.03,632.82 L114.45,632.23 L114.87,631.62 L115.29,630.99 L115.71,630.33 L116.13,629.64 L116.55,628.93 L116.97,628.19 L117.39,627.42 L117.81,626.62 L118.23,625.8 L118.65,624.94 L119.07,624.06 L119.49,623.14 L119.91,622.2 L120.33,621.22 L120.75,620.21 L121.17,619.17 L121.59,618.1 L122.01,616.99 L122.43,615.86 L122.85,614.69 L123.27,613.49 L123.69,612.25 L124.11,610.99 L124.53,609.69 L124.95,608.36 L125.37,607.01 L125.79,605.62 L126.21,604.2 L126.63,602.76 L127.05,601.29 L127.47,599.79 L127.89,598.27 L128.31,596.72 L128.73,595.16 L129.15,593.57 L129.57,591.96 L129.99,590.34 L130.41,588.7 L130.83,587.04 L131.25,585.38 L131.67,583.7 L132.09,582.01 L132.51,580.32 L132.93,578.63 L133.35,576.93 L133.77,575.23 L134.19,573.54 L134.61,571.85 L135.03,570.16 L135.44,568.48 L135.86,566.82 L136.28,565.16 L136.7,563.52 L137.12,561.89 L137.54,560.29 L137.96,558.7 L138.38,557.13 L138.8,555.58 L139.22,554.06 L139.64,552.56 L140.06,551.09 L140.48,549.64 L140.9,548.22 L141.32,546.83 L141.74,545.47 L142.16,544.14 L142.58,542.85 L143,541.58 L143.42,540.34 L143.84,539.14 L144.26,537.97 L144.68,536.83 L145.1,535.72 L145.52,534.65 L145.94,533.6 L146.36,532.59 L146.78,531.61 L147.2,530.67 L147.62,529.75 L148.04,528.86 L148.46,528.01 L148.88,527.18 L149.3,526.38 L149.72,525.61 L150.14,524.87 L150.56,524.15 L150.98,523.46 L151.4,522.8 L151.82,522.16 L152.24,521.55 L152.66,520.96 L153.08,520.4 L153.5,519.85 L153.92,519.33 L154.34,518.83 L154.76,518.35 L155.18,517.89 L155.6,517.45 L156.02,517.03 L156.44,516.62 L156.86,516.23 L157.28,515.86 L157.7,515.51 L158.12,515.16 L158.54,514.84 L158.96,514.53 L159.38,514.23 L159.8,513.94 L160.22,513.67 L160.64,513.41 L161.06,513.16 L161.48,512.93 L161.9,512.7 L162.32,512.48 L162.74,512.28 L163.16,512.08 L163.58,511.89 L164,511.71 L164.42,511.54 L164.84,511.37 L165.26,511.22 L165.68,511.07 L166.1,510.93 L166.52,510.79 L166.94,510.66 L167.36,510.54 L167.78,510.42 L168.19,510.31 L168.61,510.2 L169.03,510.1 L169.45,510 L169.87,509.91" stroke="#ac1539" stroke-width="1.5" fill="none" stroke-linejoin="round" />
<path d="M85.9,641.64V647.83M83.5,641.64h4.8M83.5,647.83h4.8" stroke="#a01a40" stroke-width="1" fill="none"/>
<circle cx="85.9" cy="644.74" r="2.5" fill="#c81238"/>
<path d="M102.07,639.01V646.75M99.67,639.01h4.8M99.67,646.75h4.8" stroke="#a01a40" stroke-width="1" fill="none"/>
<circle cx="102.07" cy="642.88" r="2.5" fill="#c81238"/>
<path d="M119.8,607.43V638.24M117.4,607.43h4.8M117.4,638.24h4.8" stroke="#a01a40" stroke-width="1" fill="none"/>
<circle cx="119.8" cy="622.29" r="2.5" fill="#c81238"/>
<path d="M135.97,541.64V591.18M133.57,541.64h4.8M133.57,591.18h4.8" stroke="#a01a40" stroke-width="1" fill="none"/>
<circle cx="135.97" cy="566.41" r="2.5" fill="#c81238"/>
<path d="M169.87,502.17V517.65M167.47,502.17h4.8M167.47,517.65h4.8" stroke="#a01a40" stroke-width="1" fill="none"/>
<circle cx="169.87" cy="509.91" r="2.5" fill="#c81238"/>
<path d="M119.8,645.27 L120.22,645.24 L120.64,645.21 L121.06,645.17 L121.48,645.14 L121.9,645.1 L122.32,645.06 L122.74,645.02 L123.16,644.98 L123.58,644.94 L124,644.89 L124.42,644.85 L124.84,644.8 L125.26,644.74 L125.68,644.69 L126.1,644.63 L126.52,644.57 L126.94,644.51 L127.36,644.44 L127.78,644.37 L128.2,644.3 L128.62,644.23 L129.04,644.15 L129.46,644.07 L129.88,643.98 L130.3,643.89 L130.72,643.8 L131.14,643.7 L131.56,643.59 L131.98,643.49 L132.4,643.37 L132.82,643.26 L133.24,643.13 L133.66,643 L134.08,642.87 L134.5,642.73 L134.92,642.58 L135.34,642.43 L135.76,642.27 L136.18,642.1 L136.59,641.92 L137.01,641.74 L137.43,641.55 L137.85,641.35 L138.27,641.14 L138.69,640.93 L139.11,640.7 L139.53,640.46 L139.95,640.21 L140.37,639.96 L140.79,639.69 L141.21,639.41 L141.63,639.11 L142.05,638.81 L142.47,638.49 L142.89,638.16 L143.31,637.82 L143.73,637.46 L144.15,637.08 L144.57,636.69 L144.99,636.29 L145.41,635.87 L145.83,635.43 L146.25,634.97 L146.67,634.5 L147.09,634 L147.51,633.49 L147.93,632.96 L148.35,632.41 L148.77,631.83 L149.19,631.24 L149.61,630.62 L150.03,629.98 L150.45,629.32 L150.87,628.63 L151.29,627.92 L151.71,627.19 L152.13,626.43 L152.55,625.64 L152.97,624.83 L153.39,623.99 L153.81,623.13 L154.23,622.23 L154.65,621.31 L155.07,620.37 L155.49,619.39 L155.91,618.39 L156.33,617.36 L156.75,616.3 L157.17,615.21 L157.59,614.09 L158.01,612.95 L158.43,611.77 L158.85,610.57 L159.27,609.35 L159.69,608.09 L160.11,606.81 L160.53,605.51 L160.95,604.17 L161.37,602.82 L161.79,601.44 L162.21,600.04 L162.63,598.61 L163.05,597.17 L163.47,595.7 L163.89,594.22 L164.31,592.72 L164.73,591.2 L165.15,589.67 L165.57,588.13 L165.99,586.58 L166.41,585.01 L166.83,583.44 L167.25,581.86 L167.67,580.27 L168.09,578.68 L168.51,577.09 L168.93,575.5 L169.34,573.91 L169.76,572.33 L170.18,570.75 L170.6,569.17 L171.02,567.61 L171.44,566.05 L171.86,564.51 L172.28,562.98 L172.7,561.46 L173.12,559.96 L173.54,558.48 L173.96,557.01 L174.38,555.57 L174.8,554.14 L175.22,552.74 L175.64,551.36 L176.06,550 L176.48,548.67 L176.9,547.36 L177.32,546.08 L177.74,544.82 L178.16,543.59 L178.58,542.39 L179,541.22 L179.42,540.07 L179.84,538.96 L180.26,537.87 L180.68,536.81 L181.1,535.77 L181.52,534.77 L181.94,533.79 L182.36,532.84 L182.78,531.92 L183.2,531.03 L183.62,530.16 L184.04,529.32 L184.46,528.51 L184.88,527.72 L185.3,526.96 L185.72,526.23 L186.14,525.51 L186.56,524.83 L186.98,524.16 L187.4,523.52 L187.82,522.91 L188.24,522.31 L188.66,521.74 L189.08,521.18 L189.5,520.65 L189.92,520.14 L190.34,519.64 L190.76,519.17 L191.18,518.71 L191.6,518.27 L192.02,517.85 L192.44,517.44 L192.86,517.05 L193.28,516.68 L193.7,516.32 L194.12,515.97 L194.54,515.64 L194.96,515.32 L195.38,515.01 L195.8,514.72 L196.22,514.44 L196.64,514.17 L197.06,513.91 L197.48,513.67 L197.9,513.43 L198.32,513.2 L198.74,512.98 L199.16,512.77 L199.58,512.57 L200,512.38 L200.42,512.2 L200.84,512.02 L201.26,511.86 L201.68,511.7 L202.09,511.54 L202.51,511.39 L202.93,511.25 L203.35,511.12 L203.77,510.99" stroke="#d61973" stroke-width="1.5" fill="none" stroke-linejoin="round" />
<path d="M119.8,643.19V646.28M117.4,643.19h4.8M117.4,646.28h4.8" stroke="#bd2870" stroke-width="1" fill="none"/>
<rect x="117.5" y="642.44" width="4.6" height="4.6" fill="#e0137a"/>
<path d="M135.97,639.01V646.75M133.57,639.01h4.8M133.57,646.75h4.8" stroke="#bd2870" stroke-width="1" fill="none"/>
<rect x="133.67" y="640.58" width="4.6" height="4.6" fill="#e0137a"/>
<path d="M153.7,607.58V639.01M151.3,607.58h4.8M151.3,639.01h4.8" stroke="#bd2870" stroke-width="1" fill="none"/>
<rect x="151.4" y="620.76" width="4.6" height="4.6" fill="#e0137a"/>
<path d="M169.87,546.75V597.21M167.47,546.75h4.8M167.47,597.21h4.8" stroke="#bd2870" stroke-width="1" fill="none"/>
<rect x="167.57" y="569.68" width="4.6" height="4.6" fill="#e0137a"/>
<path d="M203.77,502.48V519.5M201.37,502.48h4.8M201.37,519.5h4.8" stroke="#bd2870" stroke-width="1" fill="none"/>
<rect x="201.47" y="508.69" width="4.6" height="4.6" fill="#e0137a"/>
<path d="M336.9,615.12 L337.32,615.01 L337.74,614.89 L338.16,614.78 L338.58,614.65 L339,614.53 L339.42,614.39 L339.84,614.26 L340.26,614.12 L340.68,613.97 L341.1,613.83 L341.52,613.67 L341.94,613.51 L342.36,613.35 L342.78,613.18 L343.2,613.01 L343.62,612.83 L344.04,612.64 L344.46,612.45 L344.88,612.26 L345.3,612.05 L345.72,611.84 L346.14,611.63 L346.56,611.41 L346.98,611.18 L347.4,610.94 L347.82,610.7 L348.24,610.45 L348.66,610.19 L349.08,609.93 L349.5,609.65 L349.92,609.37 L350.34,609.08 L350.76,608.79 L351.18,608.48 L351.6,608.17 L352.02,607.84 L352.44,607.51 L352.86,607.17 L353.28,606.82 L353.69,606.46 L354.11,606.09 L354.53,605.71 L354.95,605.32 L355.37,604.92 L355.79,604.51 L356.21,604.09 L356.63,603.66 L357.05,603.22 L357.47,602.76 L357.89,602.3 L358.31,601.83 L358.73,601.34 L359.15,600.84 L359.57,600.33 L359.99,599.81 L360.41,599.28 L360.83,598.73 L361.25,598.17 L361.67,597.61 L362.09,597.03 L362.51,596.43 L362.93,595.83 L363.35,595.21 L363.77,594.58 L364.19,593.94 L364.61,593.29 L365.03,592.63 L365.45,591.95 L365.87,591.26 L366.29,590.56 L366.71,589.85 L367.13,589.13 L367.55,588.4 L367.97,587.66 L368.39,586.9 L368.81,586.14 L369.23,585.36 L369.65,584.58 L370.07,583.78 L370.49,582.98 L370.91,582.16 L371.33,581.34 L371.75,580.51 L372.17,579.67 L372.59,578.83 L373.01,577.98 L373.43,577.12 L373.85,576.25 L374.27,575.38 L374.69,574.5 L375.11,573.62 L375.53,572.73 L375.95,571.84 L376.37,570.94 L376.79,570.05 L377.21,569.15 L377.63,568.25 L378.05,567.34 L378.47,566.44 L378.89,565.53 L379.31,564.63 L379.73,563.73 L380.15,562.82 L380.57,561.92 L380.99,561.02 L381.41,560.13 L381.83,559.24 L382.25,558.35 L382.67,557.47 L383.09,556.59 L383.51,555.71 L383.93,554.84 L384.35,553.98 L384.77,553.13 L385.19,552.28 L385.61,551.44 L386.03,550.61 L386.44,549.78 L386.86,548.97 L387.28,548.16 L387.7,547.36 L388.12,546.58 L388.54,545.8 L388.96,545.03 L389.38,544.27 L389.8,543.53 L390.22,542.79 L390.64,542.07 L391.06,541.35 L391.48,540.65 L391.9,539.96 L392.32,539.28 L392.74,538.62 L393.16,537.96 L393.58,537.32 L394,536.69 L394.42,536.07 L394.84,535.46 L395.26,534.86 L395.68,534.28 L396.1,533.71 L396.52,533.15 L396.94,532.6 L397.36,532.06 L397.78,531.54 L398.2,531.03 L398.62,530.52 L399.04,530.03 L399.46,529.56 L399.88,529.09 L400.3,528.63 L400.72,528.19 L401.14,527.75 L401.56,527.33 L401.98,526.92 L402.4,526.51 L402.82,526.12 L403.24,525.74 L403.66,525.37 L404.08,525.01 L404.5,524.65 L404.92,524.31 L405.34,523.97 L405.76,523.65 L406.18,523.33 L406.6,523.02 L407.02,522.73 L407.44,522.43 L407.86,522.15 L408.28,521.88 L408.7,521.61 L409.12,521.35 L409.54,521.1 L409.96,520.85 L410.38,520.62 L410.8,520.39 L411.22,520.16 L411.64,519.95 L412.06,519.73 L412.48,519.53 L412.9,519.33 L413.32,519.14 L413.74,518.95 L414.16,518.77 L414.58,518.6 L415,518.43 L415.42,518.26 L415.84,518.1 L416.26,517.95 L416.68,517.8 L417.1,517.65 L417.52,517.51 L417.94,517.37 L418.36,517.24 L418.78,517.11 L419.19,516.99 L419.61,516.87 L420.03,516.75 L420.45,516.64 L420.87,516.53" stroke="#ac1539" stroke-width="1.5" fill="none" stroke-linejoin="round" />
<path d="M336.9,596.44V634.52M334.5,596.44h4.8M334.5,634.52h4.8" stroke="#a01a40" stroke-width="1" fill="none"/>
<circle cx="336.9" cy="615.48" r="2.5" fill="#c81238"/>
<path d="M353.07,590.25V622.14M350.67,590.25h4.8M350.67,622.14h4.8" stroke="#a01a40" stroke-width="1" fill="none"/>
<circle cx="353.07" cy="606.19" r="2.5" fill="#c81238"/>
<path d="M370.8,569.19V596.44M368.4,569.19h4.8M368.4,596.44h4.8" stroke="#a01a40" stroke-width="1" fill="none"/>
<circle cx="370.8" cy="582.82" r="2.5" fill="#c81238"/>
<path d="M386.97,535.29V561.61M384.57,535.29h4.8M384.57,561.61h4.8" stroke="#a01a40" stroke-width="1" fill="none"/>
<circle cx="386.97" cy="548.45" r="2.5" fill="#c81238"/>
<path d="M420.87,506.04V527.09M418.47,506.04h4.8M418.47,527.09h4.8" stroke="#a01a40" stroke-width="1" fill="none"/>
<circle cx="420.87" cy="516.56" r="2.5" fill="#c81238"/>
<path d="M370.8,614.7 L371.22,614.63 L371.64,614.56 L372.06,614.49 L372.48,614.42 L372.9,614.34 L373.32,614.26 L373.74,614.18 L374.16,614.1 L374.58,614.01 L375,613.92 L375.42,613.83 L375.84,613.73 L376.26,613.63 L376.68,613.52 L377.1,613.42 L377.52,613.31 L377.94,613.19 L378.36,613.07 L378.78,612.95 L379.2,612.82 L379.62,612.69 L380.04,612.55 L380.46,612.41 L380.88,612.26 L381.3,612.11 L381.72,611.95 L382.14,611.79 L382.56,611.62 L382.98,611.45 L383.4,611.27 L383.82,611.08 L384.24,610.89 L384.66,610.7 L385.08,610.49 L385.5,610.28 L385.92,610.06 L386.34,609.84 L386.76,609.6 L387.18,609.36 L387.59,609.12 L388.01,608.86 L388.43,608.6 L388.85,608.33 L389.27,608.05 L389.69,607.76 L390.11,607.46 L390.53,607.15 L390.95,606.84 L391.37,606.51 L391.79,606.17 L392.21,605.83 L392.63,605.47 L393.05,605.11 L393.47,604.73 L393.89,604.34 L394.31,603.94 L394.73,603.53 L395.15,603.11 L395.57,602.68 L395.99,602.24 L396.41,601.78 L396.83,601.31 L397.25,600.83 L397.67,600.34 L398.09,599.84 L398.51,599.32 L398.93,598.79 L399.35,598.25 L399.77,597.69 L400.19,597.13 L400.61,596.54 L401.03,595.95 L401.45,595.34 L401.87,594.72 L402.29,594.09 L402.71,593.45 L403.13,592.79 L403.55,592.12 L403.97,591.43 L404.39,590.74 L404.81,590.03 L405.23,589.31 L405.65,588.57 L406.07,587.83 L406.49,587.07 L406.91,586.31 L407.33,585.53 L407.75,584.74 L408.17,583.94 L408.59,583.13 L409.01,582.3 L409.43,581.47 L409.85,580.64 L410.27,579.79 L410.69,578.93 L411.11,578.07 L411.53,577.2 L411.95,576.32 L412.37,575.44 L412.79,574.55 L413.21,573.66 L413.63,572.76 L414.05,571.86 L414.47,570.95 L414.89,570.04 L415.31,569.13 L415.73,568.22 L416.15,567.31 L416.57,566.4 L416.99,565.48 L417.41,564.57 L417.83,563.66 L418.25,562.76 L418.67,561.85 L419.09,560.95 L419.51,560.05 L419.93,559.16 L420.34,558.28 L420.76,557.39 L421.18,556.52 L421.6,555.65 L422.02,554.79 L422.44,553.94 L422.86,553.09 L423.28,552.25 L423.7,551.43 L424.12,550.61 L424.54,549.8 L424.96,549.01 L425.38,548.22 L425.8,547.44 L426.22,546.68 L426.64,545.92 L427.06,545.18 L427.48,544.45 L427.9,543.74 L428.32,543.03 L428.74,542.34 L429.16,541.66 L429.58,540.99 L430,540.34 L430.42,539.7 L430.84,539.07 L431.26,538.45 L431.68,537.85 L432.1,537.26 L432.52,536.68 L432.94,536.12 L433.36,535.57 L433.78,535.03 L434.2,534.5 L434.62,533.99 L435.04,533.49 L435.46,533 L435.88,532.52 L436.3,532.06 L436.72,531.61 L437.14,531.17 L437.56,530.74 L437.98,530.32 L438.4,529.91 L438.82,529.52 L439.24,529.14 L439.66,528.76 L440.08,528.4 L440.5,528.05 L440.92,527.7 L441.34,527.37 L441.76,527.05 L442.18,526.73 L442.6,526.43 L443.02,526.13 L443.44,525.85 L443.86,525.57 L444.28,525.3 L444.7,525.04 L445.12,524.79 L445.54,524.54 L445.96,524.3 L446.38,524.07 L446.8,523.85 L447.22,523.63 L447.64,523.42 L448.06,523.22 L448.48,523.03 L448.9,522.84 L449.32,522.65 L449.74,522.48 L450.16,522.3 L450.58,522.14 L451,521.98 L451.42,521.82 L451.84,521.67 L452.26,521.53 L452.68,521.39 L453.09,521.25 L453.51,521.12 L453.93,520.99 L454.35,520.87 L454.77,520.75" stroke="#d61973" stroke-width="1.5" fill="none" stroke-linejoin="round" />
<path d="M370.8,596.44V634.52M368.4,596.44h4.8M368.4,634.52h4.8" stroke="#bd2870" stroke-width="1" fill="none"/>
<rect x="368.5" y="613.18" width="4.6" height="4.6" fill="#e0137a"/>
<path d="M386.97,591.18V625.23M384.57,591.18h4.8M384.57,625.23h4.8" stroke="#bd2870" stroke-width="1" fill="none"/>
<rect x="384.67" y="605.9" width="4.6" height="4.6" fill="#e0137a"/>
<path d="M404.7,575.08V606.66M402.3,575.08h4.8M402.3,606.66h4.8" stroke="#bd2870" stroke-width="1" fill="none"/>
<rect x="402.4" y="588.57" width="4.6" height="4.6" fill="#e0137a"/>
<path d="M420.87,546.28V567.34M418.47,546.28h4.8M418.47,567.34h4.8" stroke="#bd2870" stroke-width="1" fill="none"/>
<rect x="418.57" y="554.51" width="4.6" height="4.6" fill="#e0137a"/>
<path d="M454.77,509.44V532.04M452.37,509.44h4.8M452.37,532.04h4.8" stroke="#bd2870" stroke-width="1" fill="none"/>
<rect x="452.47" y="518.44" width="4.6" height="4.6" fill="#e0137a"/>
<path d="M51.7,751V873.2" stroke="#050505" stroke-width="1.5"/>
<path d="M47.4,872.6H51.7" stroke="#050505" stroke-width="1.2"/>
<text x="43.4" y="875.2" font-size="9.4" text-anchor="end" font-weight="normal" fill="#2a2a2a" >0</text>
<path d="M47.4,843H51.7" stroke="#050505" stroke-width="1.2"/>
<text x="43.4" y="845.6" font-size="9.4" text-anchor="end" font-weight="normal" fill="#2a2a2a" >1000</text>
<path d="M47.4,813.4H51.7" stroke="#050505" stroke-width="1.2"/>
<text x="43.4" y="816" font-size="9.4" text-anchor="end" font-weight="normal" fill="#2a2a2a" >2000</text>
<path d="M47.4,783.8H51.7" stroke="#050505" stroke-width="1.2"/>
<text x="43.4" y="786.4" font-size="9.4" text-anchor="end" font-weight="normal" fill="#2a2a2a" >3000</text>
<path d="M47.4,754.2H51.7" stroke="#050505" stroke-width="1.2"/>
<text x="43.4" y="756.8" font-size="9.4" text-anchor="end" font-weight="normal" fill="#2a2a2a" >4000</text>
<path d="M51,872.6H229.5" stroke="#050505" stroke-width="1.5"/>
<text x="14.8" y="811.65" font-size="11.3" text-anchor="middle" fill="#2a2a2a" stroke="#2a2a2a" stroke-width="0.35" textLength="45.7" lengthAdjust="spacingAndGlyphs" transform="rotate(-90 14.8 811.65)">BCL-2 (MFI)</text>
<circle cx="58" cy="758.8" r="2.2" fill="#1b3a70"/>
<circle cx="58" cy="771.3" r="2.2" fill="#c0112f"/>
<text x="65" y="761.4" font-size="7.5" text-anchor="start" font-weight="normal" fill="#2a2a2a" >CD8<tspan font-size="6.5" dy="-1.9">+</tspan><tspan dy="1.9"> CAR-T cells</tspan></text>
<text x="65" y="773.9" font-size="7.5" text-anchor="start" font-weight="normal" fill="#2a2a2a" >CD4<tspan font-size="6.5" dy="-1.9">+</tspan><tspan dy="1.9"> CAR-T cells</tspan></text>
<rect x="56.6" y="850.2" width="8.2" height="22.4" fill="#7786b2" stroke="#65729a" stroke-width="0.8"/>
<circle cx="58.7" cy="850" r="2.2" fill="#1b3a70"/>
<circle cx="63" cy="847.4" r="2.2" fill="#1b3a70"/>
<path d="M60.7,872.6V876.6" stroke="#050505" stroke-width="1.2"/>
<text x="65.2" y="885.4" font-size="9" text-anchor="end" font-weight="normal" fill="#2a2a2a" transform="rotate(-45 65.2 885.4)">0</text>
<rect x="70.4" y="845.6" width="8.2" height="27" fill="#7786b2" stroke="#65729a" stroke-width="0.8"/>
<path d="M74.5,840.4V847M72.8,840.4h3.4M72.8,847h3.4" stroke="#1b3a70" stroke-width="1.2" fill="none"/>
<circle cx="74.5" cy="840.4" r="2.2" fill="#1b3a70"/>
<circle cx="74.5" cy="847" r="2.2" fill="#1b3a70"/>
<path d="M74.5,872.6V876.6" stroke="#050505" stroke-width="1.2"/>
<text x="79" y="885.4" font-size="9" text-anchor="end" font-weight="normal" fill="#2a2a2a" transform="rotate(-45 79 885.4)">1</text>
<rect x="84.3" y="836.3" width="8.2" height="36.3" fill="#7786b2" stroke="#65729a" stroke-width="0.8"/>
<circle cx="86.5" cy="835.9" r="2.2" fill="#1b3a70"/>
<circle cx="90.4" cy="833" r="2.2" fill="#1b3a70"/>
<path d="M88.4,872.6V876.6" stroke="#050505" stroke-width="1.2"/>
<text x="92.9" y="885.4" font-size="9" text-anchor="end" font-weight="normal" fill="#2a2a2a" transform="rotate(-45 92.9 885.4)">3</text>
<rect x="97.7" y="805.9" width="8.2" height="66.7" fill="#7786b2" stroke="#65729a" stroke-width="0.8"/>
<path d="M101.8,799.7V808M100.1,799.7h3.4M100.1,808h3.4" stroke="#1b3a70" stroke-width="1.2" fill="none"/>
<circle cx="101.5" cy="799.7" r="2.2" fill="#1b3a70"/>
<circle cx="101.5" cy="808" r="2.2" fill="#1b3a70"/>
<path d="M101.8,872.6V876.6" stroke="#050505" stroke-width="1.2"/>
<text x="106.3" y="885.4" font-size="9" text-anchor="end" font-weight="normal" fill="#2a2a2a" transform="rotate(-45 106.3 885.4)">10</text>
<rect x="111.5" y="793.4" width="8.2" height="79.2" fill="#7786b2" stroke="#65729a" stroke-width="0.8"/>
<circle cx="113" cy="793.5" r="2.2" fill="#1b3a70"/>
<circle cx="117.9" cy="790.6" r="2.2" fill="#1b3a70"/>
<path d="M115.6,872.6V876.6" stroke="#050505" stroke-width="1.2"/>
<text x="120.1" y="885.4" font-size="9" text-anchor="end" font-weight="normal" fill="#2a2a2a" transform="rotate(-45 120.1 885.4)">30</text>
<rect x="125.3" y="789.1" width="8.2" height="83.5" fill="#7786b2" stroke="#65729a" stroke-width="0.8"/>
<circle cx="127" cy="788.2" r="2.2" fill="#1b3a70"/>
<circle cx="131.3" cy="784.6" r="2.2" fill="#1b3a70"/>
<path d="M129.4,872.6V876.6" stroke="#050505" stroke-width="1.2"/>
<text x="133.9" y="885.4" font-size="9" text-anchor="end" font-weight="normal" fill="#2a2a2a" transform="rotate(-45 133.9 885.4)">300</text>
<rect x="147.8" y="853.4" width="8.2" height="19.2" fill="#df7470" stroke="#cf6464" stroke-width="0.8"/>
<path d="M151.9,848.7V855.4M150.2,848.7h3.4M150.2,855.4h3.4" stroke="#c0112f" stroke-width="1.2" fill="none"/>
<circle cx="151.9" cy="848.7" r="2.2" fill="#c0112f"/>
<circle cx="151.9" cy="855.4" r="2.2" fill="#c0112f"/>
<path d="M151.9,872.6V876.6" stroke="#050505" stroke-width="1.2"/>
<text x="156.4" y="885.4" font-size="9" text-anchor="end" font-weight="normal" fill="#2a2a2a" transform="rotate(-45 156.4 885.4)">0</text>
<rect x="161.6" y="855.8" width="8.2" height="16.8" fill="#df7470" stroke="#cf6464" stroke-width="0.8"/>
<circle cx="163.8" cy="855.8" r="2.2" fill="#c0112f"/>
<circle cx="167.7" cy="852.5" r="2.2" fill="#c0112f"/>
<path d="M165.7,872.6V876.6" stroke="#050505" stroke-width="1.2"/>
<text x="170.2" y="885.4" font-size="9" text-anchor="end" font-weight="normal" fill="#2a2a2a" transform="rotate(-45 170.2 885.4)">1</text>
<rect x="175.4" y="848.1" width="8.2" height="24.5" fill="#df7470" stroke="#cf6464" stroke-width="0.8"/>
<path d="M179.5,843.8V850M177.8,843.8h3.4M177.8,850h3.4" stroke="#c0112f" stroke-width="1.2" fill="none"/>
<circle cx="179.2" cy="843.8" r="2.2" fill="#c0112f"/>
<circle cx="179.2" cy="850" r="2.2" fill="#c0112f"/>
<path d="M179.5,872.6V876.6" stroke="#050505" stroke-width="1.2"/>
<text x="184" y="885.4" font-size="9" text-anchor="end" font-weight="normal" fill="#2a2a2a" transform="rotate(-45 184 885.4)">3</text>
<rect x="189.2" y="836" width="8.2" height="36.6" fill="#df7470" stroke="#cf6464" stroke-width="0.8"/>
<path d="M193.3,830V838.5M191.6,830h3.4M191.6,838.5h3.4" stroke="#c0112f" stroke-width="1.2" fill="none"/>
<circle cx="193" cy="830" r="2.2" fill="#c0112f"/>
<circle cx="193" cy="838.5" r="2.2" fill="#c0112f"/>
<path d="M193.3,872.6V876.6" stroke="#050505" stroke-width="1.2"/>
<text x="197.8" y="885.4" font-size="9" text-anchor="end" font-weight="normal" fill="#2a2a2a" transform="rotate(-45 197.8 885.4)">10</text>
<rect x="202.7" y="820.6" width="8.2" height="52" fill="#df7470" stroke="#cf6464" stroke-width="0.8"/>
<path d="M206.8,816V822.7M205.1,816h3.4M205.1,822.7h3.4" stroke="#c0112f" stroke-width="1.2" fill="none"/>
<circle cx="206.5" cy="816" r="2.2" fill="#c0112f"/>
<circle cx="206.5" cy="822.7" r="2.2" fill="#c0112f"/>
<path d="M206.8,872.6V876.6" stroke="#050505" stroke-width="1.2"/>
<text x="211.3" y="885.4" font-size="9" text-anchor="end" font-weight="normal" fill="#2a2a2a" transform="rotate(-45 211.3 885.4)">30</text>
<rect x="216.5" y="809.1" width="8.2" height="63.5" fill="#df7470" stroke="#cf6464" stroke-width="0.8"/>
<path d="M220.6,801.5V813M218.9,801.5h3.4M218.9,813h3.4" stroke="#c0112f" stroke-width="1.2" fill="none"/>
<circle cx="220.6" cy="801.5" r="2.2" fill="#c0112f"/>
<circle cx="220.6" cy="813" r="2.2" fill="#c0112f"/>
<path d="M220.6,872.6V876.6" stroke="#050505" stroke-width="1.2"/>
<text x="225.1" y="885.4" font-size="9" text-anchor="end" font-weight="normal" fill="#2a2a2a" transform="rotate(-45 225.1 885.4)">300</text>
<text x="140.45" y="912.5" font-size="11.3" text-anchor="middle" fill="#2a2a2a" stroke="#2a2a2a" stroke-width="0.35" textLength="123" lengthAdjust="spacingAndGlyphs" >NKTR-255 concentration (ng/mL)</text>
<path d="M303,732V895.3" stroke="#050505" stroke-width="1.5"/>
<path d="M298.7,894.7H303" stroke="#050505" stroke-width="1.2"/>
<text x="295.5" y="898" font-size="9.2" text-anchor="end" font-weight="normal" fill="#2a2a2a" >0</text>
<path d="M298.7,863.02H303" stroke="#050505" stroke-width="1.2"/>
<text x="295.5" y="866.32" font-size="9.2" text-anchor="end" font-weight="normal" fill="#2a2a2a" >10</text>
<path d="M298.7,831.34H303" stroke="#050505" stroke-width="1.2"/>
<text x="295.5" y="834.64" font-size="9.2" text-anchor="end" font-weight="normal" fill="#2a2a2a" >20</text>
<path d="M298.7,799.66H303" stroke="#050505" stroke-width="1.2"/>
<text x="295.5" y="802.96" font-size="9.2" text-anchor="end" font-weight="normal" fill="#2a2a2a" >30</text>
<path d="M298.7,767.98H303" stroke="#050505" stroke-width="1.2"/>
<text x="295.5" y="771.28" font-size="9.2" text-anchor="end" font-weight="normal" fill="#2a2a2a" >40</text>
<path d="M298.7,736.3H303" stroke="#050505" stroke-width="1.2"/>
<text x="295.5" y="739.6" font-size="9.2" text-anchor="end" font-weight="normal" fill="#2a2a2a" >50</text>
<path d="M298.5,894.7H520" stroke="#050505" stroke-width="1.5"/>
<text x="276.4" y="813.35" font-size="11.3" text-anchor="middle" fill="#2a2a2a" stroke="#2a2a2a" stroke-width="0.35" textLength="54.5" lengthAdjust="spacingAndGlyphs" transform="rotate(-90 276.4 813.35)">Fold expansion</text>
<circle cx="309.3" cy="739.5" r="2.2" fill="#1b3a70"/>
<circle cx="309.3" cy="752.5" r="2.2" fill="#c0112f"/>
<text x="316.3" y="742" font-size="7.5" text-anchor="start" font-weight="normal" fill="#2a2a2a" >CD8<tspan font-size="6.5" dy="-1.9">+</tspan><tspan dy="1.9"> CAR-T cells</tspan></text>
<text x="316.3" y="755" font-size="7.5" text-anchor="start" font-weight="normal" fill="#2a2a2a" >CD4<tspan font-size="6.5" dy="-1.9">+</tspan><tspan dy="1.9"> CAR-T cells</tspan></text>
<rect x="311.5" y="893.9" width="10.8" height="0.8" fill="#7786b2" stroke="#65729a" stroke-width="0.8"/>
<path d="M316.9,890V894M314.4,890h5M314.4,894h5" stroke="#1b3a70" stroke-width="1.2" fill="none"/>
<circle cx="311.9" cy="894.8" r="2.2" fill="#1b3a70"/>
<circle cx="317.3" cy="890.4" r="2.2" fill="#1b3a70"/>
<circle cx="321.7" cy="888.5" r="2.2" fill="#1b3a70"/>
<circle cx="321.7" cy="894.6" r="2.2" fill="#1b3a70"/>
<path d="M316.9,894.7V899.8" stroke="#050505" stroke-width="1.2"/>
<text x="322" y="907.2" font-size="9" text-anchor="end" font-weight="normal" fill="#2a2a2a" transform="rotate(-45 322 907.2)">0</text>
<rect x="326.4" y="892.9" width="10.8" height="1.8" fill="#7786b2" stroke="#65729a" stroke-width="0.8"/>
<path d="M331.8,887.7V894M329.3,887.7h5M329.3,894h5" stroke="#1b3a70" stroke-width="1.2" fill="none"/>
<circle cx="327.9" cy="886.9" r="2.2" fill="#1b3a70"/>
<circle cx="337.1" cy="885.6" r="2.2" fill="#1b3a70"/>
<circle cx="327.9" cy="894.2" r="2.2" fill="#1b3a70"/>
<circle cx="337.1" cy="894.2" r="2.2" fill="#1b3a70"/>
<path d="M331.8,894.7V899.8" stroke="#050505" stroke-width="1.2"/>
<text x="336.9" y="907.2" font-size="9" text-anchor="end" font-weight="normal" fill="#2a2a2a" transform="rotate(-45 336.9 907.2)">1</text>
<rect x="341.8" y="890.4" width="10.8" height="4.3" fill="#7786b2" stroke="#65729a" stroke-width="0.8"/>
<path d="M347.2,884.2V892.5M344.7,884.2h5M344.7,892.5h5" stroke="#1b3a70" stroke-width="1.2" fill="none"/>
<circle cx="342.7" cy="884.6" r="2.2" fill="#1b3a70"/>
<circle cx="351.9" cy="882.7" r="2.2" fill="#1b3a70"/>
<circle cx="343.3" cy="892.3" r="2.2" fill="#1b3a70"/>
<circle cx="351.9" cy="892.3" r="2.2" fill="#1b3a70"/>
<path d="M347.2,894.7V899.8" stroke="#050505" stroke-width="1.2"/>
<text x="352.3" y="907.2" font-size="9" text-anchor="end" font-weight="normal" fill="#2a2a2a" transform="rotate(-45 352.3 907.2)">3</text>
<rect x="357.2" y="880.2" width="10.8" height="14.5" fill="#7786b2" stroke="#65729a" stroke-width="0.8"/>
<path d="M362.6,870.8V885.2M360.1,870.8h5M360.1,885.2h5" stroke="#1b3a70" stroke-width="1.2" fill="none"/>
<circle cx="362.5" cy="864.4" r="2.2" fill="#1b3a70"/>
<circle cx="362.5" cy="870.8" r="2.2" fill="#1b3a70"/>
<circle cx="357.7" cy="891.3" r="2.2" fill="#1b3a70"/>
<circle cx="367.3" cy="888" r="2.2" fill="#1b3a70"/>
<path d="M362.6,894.7V899.8" stroke="#050505" stroke-width="1.2"/>
<text x="367.7" y="907.2" font-size="9" text-anchor="end" font-weight="normal" fill="#2a2a2a" transform="rotate(-45 367.7 907.2)">10</text>
<rect x="372.4" y="863.4" width="10.8" height="31.3" fill="#7786b2" stroke="#65729a" stroke-width="0.8"/>
<path d="M377.8,849.3V874.6M375.3,849.3h5M375.3,874.6h5" stroke="#1b3a70" stroke-width="1.2" fill="none"/>
<circle cx="377.8" cy="833.6" r="2.2" fill="#1b3a70"/>
<circle cx="377.8" cy="848.8" r="2.2" fill="#1b3a70"/>
<circle cx="377.8" cy="879.4" r="2.2" fill="#1b3a70"/>
<circle cx="377.8" cy="886.1" r="2.2" fill="#1b3a70"/>
<path d="M377.8,894.7V899.8" stroke="#050505" stroke-width="1.2"/>
<text x="382.9" y="907.2" font-size="9" text-anchor="end" font-weight="normal" fill="#2a2a2a" transform="rotate(-45 382.9 907.2)">30</text>
<rect x="387.7" y="808.2" width="10.8" height="86.5" fill="#7786b2" stroke="#65729a" stroke-width="0.8"/>
<path d="M393.1,788.4V824.2M390.6,788.4h5M390.6,824.2h5" stroke="#1b3a70" stroke-width="1.2" fill="none"/>
<circle cx="392.8" cy="773.4" r="2.2" fill="#1b3a70"/>
<circle cx="392.8" cy="785.4" r="2.2" fill="#1b3a70"/>
<circle cx="392.8" cy="812.5" r="2.2" fill="#1b3a70"/>
<circle cx="392.8" cy="854" r="2.2" fill="#1b3a70"/>
<path d="M393.1,894.7V899.8" stroke="#050505" stroke-width="1.2"/>
<text x="398.2" y="907.2" font-size="9" text-anchor="end" font-weight="normal" fill="#2a2a2a" transform="rotate(-45 398.2 907.2)">300</text>
<rect x="423.6" y="885.5" width="10.8" height="9.2" fill="#df7470" stroke="#cf6464" stroke-width="0.8"/>
<path d="M429,879.3V888.6M426.5,879.3h5M426.5,888.6h5" stroke="#c0112f" stroke-width="1.2" fill="none"/>
<circle cx="428.9" cy="874" r="2.2" fill="#c0112f"/>
<circle cx="428.9" cy="880" r="2.2" fill="#c0112f"/>
<circle cx="424.7" cy="892.7" r="2.2" fill="#c0112f"/>
<circle cx="434.2" cy="889.3" r="2.2" fill="#c0112f"/>
<path d="M429,894.7V899.8" stroke="#050505" stroke-width="1.2"/>
<text x="434.1" y="907.2" font-size="9" text-anchor="end" font-weight="normal" fill="#2a2a2a" transform="rotate(-45 434.1 907.2)">0</text>
<rect x="439" y="883.2" width="10.8" height="11.5" fill="#df7470" stroke="#cf6464" stroke-width="0.8"/>
<path d="M444.4,875.9V887M441.9,875.9h5M441.9,887h5" stroke="#c0112f" stroke-width="1.2" fill="none"/>
<circle cx="444.3" cy="869" r="2.2" fill="#c0112f"/>
<circle cx="444.3" cy="877" r="2.2" fill="#c0112f"/>
<circle cx="439.7" cy="892" r="2.2" fill="#c0112f"/>
<circle cx="449" cy="888.1" r="2.2" fill="#c0112f"/>
<path d="M444.4,894.7V899.8" stroke="#050505" stroke-width="1.2"/>
<text x="449.5" y="907.2" font-size="9" text-anchor="end" font-weight="normal" fill="#2a2a2a" transform="rotate(-45 449.5 907.2)">1</text>
<rect x="454.4" y="881.4" width="10.8" height="13.3" fill="#df7470" stroke="#cf6464" stroke-width="0.8"/>
<path d="M459.8,874.7V884M457.3,874.7h5M457.3,884h5" stroke="#c0112f" stroke-width="1.2" fill="none"/>
<circle cx="455" cy="872.9" r="2.2" fill="#c0112f"/>
<circle cx="464.7" cy="869" r="2.2" fill="#c0112f"/>
<circle cx="455" cy="890.4" r="2.2" fill="#c0112f"/>
<circle cx="464.7" cy="886.3" r="2.2" fill="#c0112f"/>
<path d="M459.8,894.7V899.8" stroke="#050505" stroke-width="1.2"/>
<text x="464.9" y="907.2" font-size="9" text-anchor="end" font-weight="normal" fill="#2a2a2a" transform="rotate(-45 464.9 907.2)">3</text>
<rect x="469.4" y="870.4" width="10.8" height="24.3" fill="#df7470" stroke="#cf6464" stroke-width="0.8"/>
<path d="M474.8,861.5V876.6M472.3,861.5h5M472.3,876.6h5" stroke="#c0112f" stroke-width="1.2" fill="none"/>
<circle cx="470" cy="856.2" r="2.2" fill="#c0112f"/>
<circle cx="479.7" cy="854.6" r="2.2" fill="#c0112f"/>
<circle cx="475" cy="879.8" r="2.2" fill="#c0112f"/>
<circle cx="475" cy="886.7" r="2.2" fill="#c0112f"/>
<path d="M474.8,894.7V899.8" stroke="#050505" stroke-width="1.2"/>
<text x="479.9" y="907.2" font-size="9" text-anchor="end" font-weight="normal" fill="#2a2a2a" transform="rotate(-45 479.9 907.2)">10</text>
<rect x="484.9" y="848.6" width="10.8" height="46.1" fill="#df7470" stroke="#cf6464" stroke-width="0.8"/>
<path d="M490.3,835.5V859M487.8,835.5h5M487.8,859h5" stroke="#c0112f" stroke-width="1.2" fill="none"/>
<circle cx="490" cy="821.1" r="2.2" fill="#c0112f"/>
<circle cx="490" cy="833.1" r="2.2" fill="#c0112f"/>
<circle cx="490" cy="863.6" r="2.2" fill="#c0112f"/>
<circle cx="490" cy="871.2" r="2.2" fill="#c0112f"/>
<path d="M490.3,894.7V899.8" stroke="#050505" stroke-width="1.2"/>
<text x="495.4" y="907.2" font-size="9" text-anchor="end" font-weight="normal" fill="#2a2a2a" transform="rotate(-45 495.4 907.2)">30</text>
<rect x="500" y="800.1" width="10.8" height="94.6" fill="#df7470" stroke="#cf6464" stroke-width="0.8"/>
<path d="M505.4,783.5V814.2M502.9,783.5h5M502.9,814.2h5" stroke="#c0112f" stroke-width="1.2" fill="none"/>
<circle cx="505.5" cy="758.1" r="2.2" fill="#c0112f"/>
<circle cx="505.5" cy="791.6" r="2.2" fill="#c0112f"/>
<circle cx="500.5" cy="824.4" r="2.2" fill="#c0112f"/>
<circle cx="510.4" cy="821.6" r="2.2" fill="#c0112f"/>
<path d="M505.4,894.7V899.8" stroke="#050505" stroke-width="1.2"/>
<text x="510.5" y="907.2" font-size="9" text-anchor="end" font-weight="normal" fill="#2a2a2a" transform="rotate(-45 510.5 907.2)">300</text>
<path d="M304.5,891.9H518.5" stroke="#111" stroke-width="1.5" stroke-dasharray="1.5 2.3"/>
<text x="411" y="934.2" font-size="11.3" text-anchor="middle" fill="#2a2a2a" stroke="#2a2a2a" stroke-width="0.35" textLength="123" lengthAdjust="spacingAndGlyphs" >NKTR-255 concentration (ng/mL)</text>
</svg>
</body></html>
